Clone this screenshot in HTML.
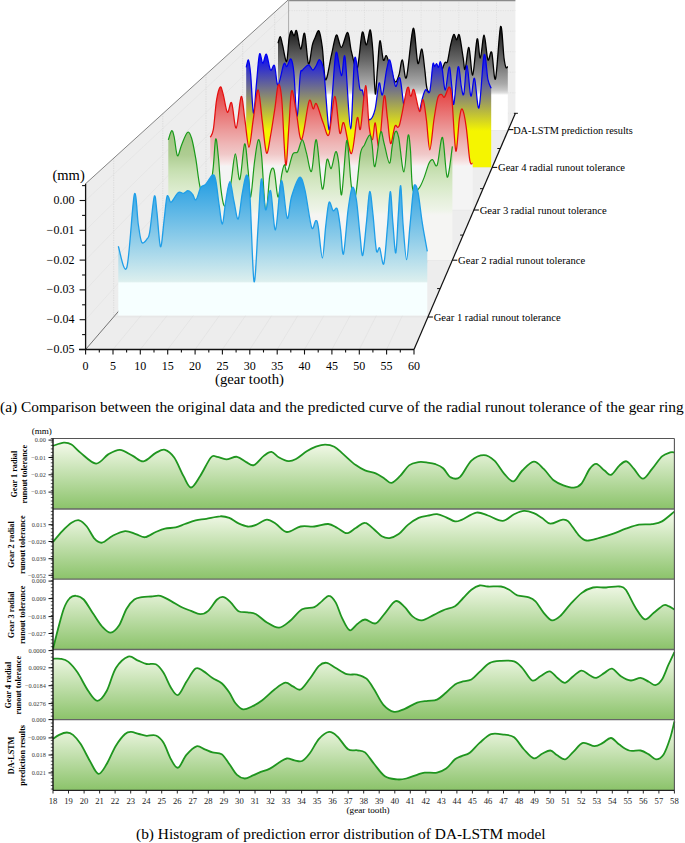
<!DOCTYPE html>
<html><head><meta charset="utf-8"><style>
html,body{margin:0;padding:0;background:#fff;}
body{width:685px;height:843px;overflow:hidden;}
svg{display:block;font-family:"Liberation Serif",serif;}
</style></head><body>
<svg width="685" height="843" viewBox="0 0 685 843">
<defs><linearGradient id="gPan0" gradientUnits="userSpaceOnUse" x1="0" y1="438.5" x2="0" y2="509.0"><stop offset="0" stop-color="#fafdf2"/><stop offset="1" stop-color="#8bc36a"/></linearGradient><linearGradient id="gPan1" gradientUnits="userSpaceOnUse" x1="0" y1="509.0" x2="0" y2="579.2"><stop offset="0" stop-color="#fafdf2"/><stop offset="1" stop-color="#8bc36a"/></linearGradient><linearGradient id="gPan2" gradientUnits="userSpaceOnUse" x1="0" y1="579.2" x2="0" y2="649.5"><stop offset="0" stop-color="#fafdf2"/><stop offset="1" stop-color="#8bc36a"/></linearGradient><linearGradient id="gPan3" gradientUnits="userSpaceOnUse" x1="0" y1="649.5" x2="0" y2="719.7"><stop offset="0" stop-color="#fafdf2"/><stop offset="1" stop-color="#8bc36a"/></linearGradient><linearGradient id="gPan4" gradientUnits="userSpaceOnUse" x1="0" y1="719.7" x2="0" y2="790.3"><stop offset="0" stop-color="#fafdf2"/><stop offset="1" stop-color="#8bc36a"/></linearGradient><linearGradient id="gDA" gradientUnits="userSpaceOnUse" x1="0" y1="26" x2="0" y2="95"><stop offset="0.000" stop-color="#050505"/><stop offset="0.130" stop-color="#262626"/><stop offset="0.333" stop-color="#4c4c4c"/><stop offset="0.507" stop-color="#6a6a6a"/><stop offset="0.674" stop-color="#8a8a8a"/><stop offset="0.841" stop-color="#aaaaaa"/><stop offset="0.928" stop-color="#c6c6c6"/><stop offset="0.971" stop-color="#e0e0e0"/><stop offset="1.000" stop-color="#ffffff"/></linearGradient>
<linearGradient id="gG4" gradientUnits="userSpaceOnUse" x1="0" y1="58" x2="0" y2="131"><stop offset="0" stop-color="#1212ee"/><stop offset="1" stop-color="#f5f500"/></linearGradient>
<linearGradient id="gG3" gradientUnits="userSpaceOnUse" x1="0" y1="85" x2="0" y2="166"><stop offset="0.000" stop-color="#e43434"/><stop offset="0.556" stop-color="#ec9a9a"/><stop offset="0.741" stop-color="#efb8b8"/><stop offset="0.852" stop-color="#f0c8c8"/><stop offset="0.926" stop-color="#f5dcdc"/><stop offset="0.981" stop-color="#f8ecec"/><stop offset="1.000" stop-color="#f4f4f4"/></linearGradient>
<linearGradient id="gG2" gradientUnits="userSpaceOnUse" x1="0" y1="130" x2="0" y2="216"><stop offset="0.000" stop-color="#9ec280"/><stop offset="0.291" stop-color="#aecd92"/><stop offset="0.465" stop-color="#c6dfb0"/><stop offset="0.581" stop-color="#d2e6c0"/><stop offset="0.698" stop-color="#dcecce"/><stop offset="0.814" stop-color="#e6f0dc"/><stop offset="0.930" stop-color="#eef4e8"/><stop offset="0.977" stop-color="#f4f5f1"/><stop offset="1.000" stop-color="#f5f5f3"/></linearGradient>
<linearGradient id="gG1" gradientUnits="userSpaceOnUse" x1="0" y1="175" x2="0" y2="283"><stop offset="0" stop-color="#1c9ae2"/><stop offset="0.985" stop-color="#dcefee"/><stop offset="1" stop-color="#f6ffff"/></linearGradient>
</defs>
<polygon points="85.6,183.7 289.1,-0.9 289.1,113.3 85.6,349.5" fill="#ededed"/>
<polygon points="85.6,349.5 414.0,349.5 515.4,113.3 289.1,113.3" fill="#ededed"/>
<rect x="289.1" y="-0.9" width="226.3" height="114.2" fill="#eeeeee"/>
<line x1="113.7" y1="158.2" x2="113.7" y2="316.8" stroke="#cfcfcf" stroke-width="0.6" stroke-dasharray="1.2,1.2" fill="none"/>
<line x1="162.8" y1="113.6" x2="162.8" y2="259.9" stroke="#cfcfcf" stroke-width="0.6" stroke-dasharray="1.2,1.2" fill="none"/>
<line x1="206" y1="74.5" x2="206" y2="209.8" stroke="#cfcfcf" stroke-width="0.6" stroke-dasharray="1.2,1.2" fill="none"/>
<line x1="242.7" y1="41.2" x2="242.7" y2="167.2" stroke="#cfcfcf" stroke-width="0.6" stroke-dasharray="1.2,1.2" fill="none"/>
<line x1="274.7" y1="12.1" x2="274.7" y2="130" stroke="#cfcfcf" stroke-width="0.6" stroke-dasharray="1.2,1.2" fill="none"/>
<line x1="85.6" y1="200.5" x2="289.1" y2="10.6" stroke="#dedede" stroke-width="0.5"/>
<line x1="85.6" y1="230.3" x2="289.1" y2="31.2" stroke="#dedede" stroke-width="0.5"/>
<line x1="85.6" y1="260.1" x2="289.1" y2="51.7" stroke="#dedede" stroke-width="0.5"/>
<line x1="85.6" y1="289.9" x2="289.1" y2="72.2" stroke="#dedede" stroke-width="0.5"/>
<line x1="85.6" y1="319.7" x2="289.1" y2="92.8" stroke="#dedede" stroke-width="0.5"/>
<line x1="85.6" y1="349.5" x2="289.1" y2="113.3" stroke="#dedede" stroke-width="0.5"/>
<line x1="308" y1="0" x2="308" y2="113.3" stroke="#d8d8d8" stroke-width="0.6" stroke-dasharray="1.2,1.2"/>
<line x1="113" y1="349.5" x2="308" y2="113.3" stroke="#dcdcdc" stroke-width="0.5"/>
<line x1="326.8" y1="0" x2="326.8" y2="113.3" stroke="#d8d8d8" stroke-width="0.6" stroke-dasharray="1.2,1.2"/>
<line x1="140.3" y1="349.5" x2="326.8" y2="113.3" stroke="#dcdcdc" stroke-width="0.5"/>
<line x1="345.7" y1="0" x2="345.7" y2="113.3" stroke="#d8d8d8" stroke-width="0.6" stroke-dasharray="1.2,1.2"/>
<line x1="167.7" y1="349.5" x2="345.7" y2="113.3" stroke="#dcdcdc" stroke-width="0.5"/>
<line x1="364.5" y1="0" x2="364.5" y2="113.3" stroke="#d8d8d8" stroke-width="0.6" stroke-dasharray="1.2,1.2"/>
<line x1="195.1" y1="349.5" x2="364.5" y2="113.3" stroke="#dcdcdc" stroke-width="0.5"/>
<line x1="383.4" y1="0" x2="383.4" y2="113.3" stroke="#d8d8d8" stroke-width="0.6" stroke-dasharray="1.2,1.2"/>
<line x1="222.4" y1="349.5" x2="383.4" y2="113.3" stroke="#dcdcdc" stroke-width="0.5"/>
<line x1="402.3" y1="0" x2="402.3" y2="113.3" stroke="#d8d8d8" stroke-width="0.6" stroke-dasharray="1.2,1.2"/>
<line x1="249.8" y1="349.5" x2="402.3" y2="113.3" stroke="#dcdcdc" stroke-width="0.5"/>
<line x1="421.1" y1="0" x2="421.1" y2="113.3" stroke="#d8d8d8" stroke-width="0.6" stroke-dasharray="1.2,1.2"/>
<line x1="277.2" y1="349.5" x2="421.1" y2="113.3" stroke="#dcdcdc" stroke-width="0.5"/>
<line x1="440" y1="0" x2="440" y2="113.3" stroke="#d8d8d8" stroke-width="0.6" stroke-dasharray="1.2,1.2"/>
<line x1="304.5" y1="349.5" x2="440" y2="113.3" stroke="#dcdcdc" stroke-width="0.5"/>
<line x1="458.8" y1="0" x2="458.8" y2="113.3" stroke="#d8d8d8" stroke-width="0.6" stroke-dasharray="1.2,1.2"/>
<line x1="331.9" y1="349.5" x2="458.8" y2="113.3" stroke="#dcdcdc" stroke-width="0.5"/>
<line x1="477.7" y1="0" x2="477.7" y2="113.3" stroke="#d8d8d8" stroke-width="0.6" stroke-dasharray="1.2,1.2"/>
<line x1="359.3" y1="349.5" x2="477.7" y2="113.3" stroke="#dcdcdc" stroke-width="0.5"/>
<line x1="496.5" y1="0" x2="496.5" y2="113.3" stroke="#d8d8d8" stroke-width="0.6" stroke-dasharray="1.2,1.2"/>
<line x1="386.6" y1="349.5" x2="496.5" y2="113.3" stroke="#dcdcdc" stroke-width="0.5"/>
<line x1="289.1" y1="10.6" x2="515.4" y2="10.6" stroke="#dadada" stroke-width="0.6" stroke-dasharray="1.2,1.2"/>
<line x1="289.1" y1="31.2" x2="515.4" y2="31.2" stroke="#dadada" stroke-width="0.6" stroke-dasharray="1.2,1.2"/>
<line x1="289.1" y1="51.7" x2="515.4" y2="51.7" stroke="#dadada" stroke-width="0.6" stroke-dasharray="1.2,1.2"/>
<line x1="289.1" y1="72.2" x2="515.4" y2="72.2" stroke="#dadada" stroke-width="0.6" stroke-dasharray="1.2,1.2"/>
<line x1="289.1" y1="92.8" x2="515.4" y2="92.8" stroke="#dadada" stroke-width="0.6" stroke-dasharray="1.2,1.2"/>
<line x1="289.1" y1="113.3" x2="515.4" y2="113.3" stroke="#dadada" stroke-width="0.6" stroke-dasharray="1.2,1.2"/>
<line x1="113.7" y1="316.8" x2="428" y2="316.8" stroke="#dcdcdc" stroke-width="0.5"/>
<line x1="162.8" y1="259.9" x2="452.5" y2="259.9" stroke="#dcdcdc" stroke-width="0.5"/>
<line x1="206" y1="209.8" x2="474" y2="209.8" stroke="#dcdcdc" stroke-width="0.5"/>
<line x1="242.7" y1="167.2" x2="492.2" y2="167.2" stroke="#dcdcdc" stroke-width="0.5"/>
<line x1="274.7" y1="130" x2="508.2" y2="130" stroke="#dcdcdc" stroke-width="0.5"/>
<line x1="289.1" y1="0.6" x2="515.4" y2="0.6" stroke="#8a8a8a" stroke-width="1.3"/>
<line x1="288.6" y1="0" x2="288.6" y2="113.3" stroke="#999" stroke-width="0.8"/>
<line x1="85.6" y1="183.7" x2="289.1" y2="-0.9" stroke="#666" stroke-width="0.8"/>
<line x1="85.6" y1="349.5" x2="289.1" y2="113.3" stroke="#555" stroke-width="0.8"/>
<path d="M278,43.3 C278.4,42.2 279.6,36.3 280.3,36.6 C281.1,36.9 281.4,40.8 282.5,44.9 C283.6,49 285.5,62.6 286.6,61.5 C287.7,60.4 288.3,43.4 289.1,38.3 C289.9,33.2 290.5,31.2 291.3,30.8 C292.1,30.4 293.2,35.8 294.1,35.8 C295,35.8 295.5,28.6 296.6,30.8 C297.7,33 299.4,48.7 300.7,49.1 C302,49.5 303.3,30.8 304.6,33.3 C305.9,35.8 307.2,62.1 308.5,64 C309.8,65.9 311.3,49.2 312.4,44.9 C313.5,40.6 313.8,40.6 314.9,38.3 C316,35.9 317.8,29.3 319,30.8 C320.2,32.3 321.2,39.2 322.3,47.4 C323.4,55.6 324.1,78.5 325.6,79.8 C327.1,81 329.7,62.4 331.5,54.9 C333.3,47.4 334.8,36.2 336.4,35 C338,33.8 339.5,47.8 341.4,47.4 C343.3,47 346,31.8 347.7,32.5 C349.4,33.2 349.8,45.6 351.4,51.6 C353,57.6 355.4,71.4 357.2,68.2 C359,65 360.7,36.4 362.2,32.5 C363.7,28.6 365,45.3 366.4,44.9 C367.8,44.5 369.2,28.6 370.3,30 C371.4,31.4 372.2,42.6 373,53.2 C373.8,63.9 374.6,91.1 375.3,93.9 C376,96.7 376.6,78.7 377.4,69.8 C378.2,60.9 378.9,42.4 379.9,40.8 C380.9,39.1 382.2,57.4 383.3,59.9 C384.4,62.4 385.2,55.2 386.2,55.7 C387.2,56.2 387.7,58.9 389.1,63.2 C390.6,67.5 393.2,79.6 394.9,81.5 C396.5,83.4 397.8,78.4 399,74.8 C400.2,71.2 401.1,59.5 402.4,59.9 C403.6,60.3 404.7,82.6 406.5,77.3 C408.3,72 411.3,30.6 413.2,28.3 C415.1,26 416.4,59.7 417.8,63.2 C419.2,66.7 420.6,48 421.8,49.1 C423,50.2 423.9,63 424.8,69.8 C425.7,76.6 425.9,85.9 427.3,89.8 C428.7,93.7 431.3,94.5 433.1,93.1 C434.9,91.7 436.2,86.5 438.1,81.5 C440,76.5 442.9,66.7 444.5,63.4 C446.1,60.1 446.5,64.7 447.5,61.6 C448.5,58.5 449.6,49.3 450.7,44.8 C451.8,40.3 452.8,35.4 453.8,34.6 C454.8,33.8 455.7,39.8 456.6,39.9 C457.5,40 458.3,32.2 459.4,35.2 C460.5,38.2 462.2,52.3 463.2,58 C464.1,63.7 464.2,71 465.1,69.3 C466.1,67.5 467.6,46.5 468.9,47.5 C470.2,48.5 471.3,76.4 472.7,75 C474.1,73.6 475.8,41.8 477.1,39 C478.4,36.2 479.1,58.6 480.3,58 C481.5,57.4 482.8,34.9 484.1,35.2 C485.4,35.5 486.6,56.9 487.9,59.8 C489.2,62.6 490.4,49.1 491.7,52.3 C493,55.5 494,83.1 495.5,78.8 C497,74.5 499.2,30.1 500.6,26.6 C502,23.1 503.1,51.2 504,58 C504.9,64.8 505.3,66 505.9,67.4 C506.5,68.8 507.5,66.7 507.8,66.5 L507.8,130 L278,130 Z" fill="url(#gDA)"/>
<path d="M278,43.3 C278.4,42.2 279.6,36.3 280.3,36.6 C281.1,36.9 281.4,40.8 282.5,44.9 C283.6,49 285.5,62.6 286.6,61.5 C287.7,60.4 288.3,43.4 289.1,38.3 C289.9,33.2 290.5,31.2 291.3,30.8 C292.1,30.4 293.2,35.8 294.1,35.8 C295,35.8 295.5,28.6 296.6,30.8 C297.7,33 299.4,48.7 300.7,49.1 C302,49.5 303.3,30.8 304.6,33.3 C305.9,35.8 307.2,62.1 308.5,64 C309.8,65.9 311.3,49.2 312.4,44.9 C313.5,40.6 313.8,40.6 314.9,38.3 C316,35.9 317.8,29.3 319,30.8 C320.2,32.3 321.2,39.2 322.3,47.4 C323.4,55.6 324.1,78.5 325.6,79.8 C327.1,81 329.7,62.4 331.5,54.9 C333.3,47.4 334.8,36.2 336.4,35 C338,33.8 339.5,47.8 341.4,47.4 C343.3,47 346,31.8 347.7,32.5 C349.4,33.2 349.8,45.6 351.4,51.6 C353,57.6 355.4,71.4 357.2,68.2 C359,65 360.7,36.4 362.2,32.5 C363.7,28.6 365,45.3 366.4,44.9 C367.8,44.5 369.2,28.6 370.3,30 C371.4,31.4 372.2,42.6 373,53.2 C373.8,63.9 374.6,91.1 375.3,93.9 C376,96.7 376.6,78.7 377.4,69.8 C378.2,60.9 378.9,42.4 379.9,40.8 C380.9,39.1 382.2,57.4 383.3,59.9 C384.4,62.4 385.2,55.2 386.2,55.7 C387.2,56.2 387.7,58.9 389.1,63.2 C390.6,67.5 393.2,79.6 394.9,81.5 C396.5,83.4 397.8,78.4 399,74.8 C400.2,71.2 401.1,59.5 402.4,59.9 C403.6,60.3 404.7,82.6 406.5,77.3 C408.3,72 411.3,30.6 413.2,28.3 C415.1,26 416.4,59.7 417.8,63.2 C419.2,66.7 420.6,48 421.8,49.1 C423,50.2 423.9,63 424.8,69.8 C425.7,76.6 425.9,85.9 427.3,89.8 C428.7,93.7 431.3,94.5 433.1,93.1 C434.9,91.7 436.2,86.5 438.1,81.5 C440,76.5 442.9,66.7 444.5,63.4 C446.1,60.1 446.5,64.7 447.5,61.6 C448.5,58.5 449.6,49.3 450.7,44.8 C451.8,40.3 452.8,35.4 453.8,34.6 C454.8,33.8 455.7,39.8 456.6,39.9 C457.5,40 458.3,32.2 459.4,35.2 C460.5,38.2 462.2,52.3 463.2,58 C464.1,63.7 464.2,71 465.1,69.3 C466.1,67.5 467.6,46.5 468.9,47.5 C470.2,48.5 471.3,76.4 472.7,75 C474.1,73.6 475.8,41.8 477.1,39 C478.4,36.2 479.1,58.6 480.3,58 C481.5,57.4 482.8,34.9 484.1,35.2 C485.4,35.5 486.6,56.9 487.9,59.8 C489.2,62.6 490.4,49.1 491.7,52.3 C493,55.5 494,83.1 495.5,78.8 C497,74.5 499.2,30.1 500.6,26.6 C502,23.1 503.1,51.2 504,58 C504.9,64.8 505.3,66 505.9,67.4 C506.5,68.8 507.5,66.7 507.8,66.5" fill="none" stroke="#000" stroke-width="1.3"/>
<path d="M246.2,67.4 C246.6,66.2 247.8,58.8 248.5,60 C249.2,61.2 249.9,66.1 250.7,74.9 C251.5,83.8 252.5,111.7 253.5,113.1 C254.5,114.5 255.5,93 256.5,83.2 C257.5,73.4 258.4,57.5 259.5,54.2 C260.6,50.9 261.7,63.3 262.8,63.3 C263.9,63.3 265.1,53.1 266.4,54.2 C267.7,55.3 269.1,68.1 270.5,70 C271.9,71.9 273.2,63.2 274.5,65.7 C275.8,68.2 276.4,85.3 278,85 C279.6,84.7 282.3,67.1 283.8,64 C285.3,60.9 285.6,67.3 286.8,66.5 C288,65.7 289.7,58.1 290.9,59 C292.1,59.9 292.8,62.5 293.8,72 C294.8,81.5 295.9,115.8 297,116.3 C298.1,116.8 299.3,82.6 300.2,75 C301.1,67.4 301.5,71.8 302.3,70.5 C303.1,69.2 303.9,68.5 305,67.5 C306.1,66.5 307.5,64.4 308.8,64.8 C310.1,65.2 311.6,69.8 312.8,70 C314,70.2 314.8,67.7 316,66 C317.2,64.3 318.5,58.7 319.8,59.9 C321.1,61.1 322.5,61.6 324,73.2 C325.5,84.8 327.6,126 329,129.6 C330.4,133.2 331.1,107.7 332.3,94.8 C333.5,81.9 334.6,55.6 336.1,52.4 C337.6,49.2 339.9,74.8 341.4,75.6 C342.9,76.4 343.6,48.5 345.1,57.4 C346.6,66.3 349,128.7 350.6,128.8 C352.2,128.9 353.2,65 354.7,58.2 C356.2,51.4 358.4,82.6 359.7,88.1 C361,93.6 361.5,87.2 362.7,91.4 C363.9,95.6 365.4,108.3 366.6,113 C367.8,117.7 368.6,120.2 370,119.7 C371.4,119.2 373.5,115.8 375,109.7 C376.5,103.6 377.9,85.6 379.1,83.1 C380.3,80.6 381.1,97 382.4,94.8 C383.6,92.6 385.4,75.6 386.6,69.8 C387.8,64 388.6,59.6 389.6,59.9 C390.6,60.2 391.4,67.1 392.4,71.5 C393.4,75.9 394.4,85.3 395.7,86.4 C396.9,87.5 398.5,74.8 399.9,78.1 C401.3,81.4 402.6,99.4 404,106.4 C405.4,113.4 406.5,116.4 408,120 C409.5,123.6 411.3,128.3 413,128 C414.7,127.7 416.4,123 418,118 C419.6,113 421.2,102.7 422.5,98 C423.8,93.3 424.4,90.9 425.6,89.8 C426.8,88.7 428.6,95.6 429.8,91.4 C431,87.2 432,68.8 432.8,64.6 C433.6,60.4 434.1,66.7 434.7,66.5 C435.3,66.3 436,63.5 436.6,63.6 C437.2,63.8 437.9,67.7 438.5,67.4 C439.1,67.1 439.8,61.4 440.4,61.7 C441,62 441.5,64.6 442.3,69.3 C443.1,74 444.2,90.4 445.3,90 C446.4,89.6 448.1,67.6 449.2,67 C450.3,66.4 451,80.2 451.8,86.4 C452.6,92.6 452.8,107.2 453.8,104 C454.9,100.8 456.9,69.9 458.1,67 C459.4,64.1 460.4,81.9 461.3,86.4 C462.2,90.9 462.9,97.5 463.8,94 C464.8,90.5 465.8,65.2 467,65.5 C468.2,65.8 469.6,93.9 470.8,96 C472.1,98.1 473.1,76.3 474.5,78.3 C475.9,80.3 477.4,111.7 479,107.8 C480.6,103.9 482.6,59.8 484.1,55 C485.6,50.2 486.7,73.8 487.9,79.3 C489.1,84.8 490.6,86.8 491.2,88.3 L491.2,167.2 L246.2,167.2 Z" fill="url(#gG4)"/>
<path d="M246.2,67.4 C246.6,66.2 247.8,58.8 248.5,60 C249.2,61.2 249.9,66.1 250.7,74.9 C251.5,83.8 252.5,111.7 253.5,113.1 C254.5,114.5 255.5,93 256.5,83.2 C257.5,73.4 258.4,57.5 259.5,54.2 C260.6,50.9 261.7,63.3 262.8,63.3 C263.9,63.3 265.1,53.1 266.4,54.2 C267.7,55.3 269.1,68.1 270.5,70 C271.9,71.9 273.2,63.2 274.5,65.7 C275.8,68.2 276.4,85.3 278,85 C279.6,84.7 282.3,67.1 283.8,64 C285.3,60.9 285.6,67.3 286.8,66.5 C288,65.7 289.7,58.1 290.9,59 C292.1,59.9 292.8,62.5 293.8,72 C294.8,81.5 295.9,115.8 297,116.3 C298.1,116.8 299.3,82.6 300.2,75 C301.1,67.4 301.5,71.8 302.3,70.5 C303.1,69.2 303.9,68.5 305,67.5 C306.1,66.5 307.5,64.4 308.8,64.8 C310.1,65.2 311.6,69.8 312.8,70 C314,70.2 314.8,67.7 316,66 C317.2,64.3 318.5,58.7 319.8,59.9 C321.1,61.1 322.5,61.6 324,73.2 C325.5,84.8 327.6,126 329,129.6 C330.4,133.2 331.1,107.7 332.3,94.8 C333.5,81.9 334.6,55.6 336.1,52.4 C337.6,49.2 339.9,74.8 341.4,75.6 C342.9,76.4 343.6,48.5 345.1,57.4 C346.6,66.3 349,128.7 350.6,128.8 C352.2,128.9 353.2,65 354.7,58.2 C356.2,51.4 358.4,82.6 359.7,88.1 C361,93.6 361.5,87.2 362.7,91.4 C363.9,95.6 365.4,108.3 366.6,113 C367.8,117.7 368.6,120.2 370,119.7 C371.4,119.2 373.5,115.8 375,109.7 C376.5,103.6 377.9,85.6 379.1,83.1 C380.3,80.6 381.1,97 382.4,94.8 C383.6,92.6 385.4,75.6 386.6,69.8 C387.8,64 388.6,59.6 389.6,59.9 C390.6,60.2 391.4,67.1 392.4,71.5 C393.4,75.9 394.4,85.3 395.7,86.4 C396.9,87.5 398.5,74.8 399.9,78.1 C401.3,81.4 402.6,99.4 404,106.4 C405.4,113.4 406.5,116.4 408,120 C409.5,123.6 411.3,128.3 413,128 C414.7,127.7 416.4,123 418,118 C419.6,113 421.2,102.7 422.5,98 C423.8,93.3 424.4,90.9 425.6,89.8 C426.8,88.7 428.6,95.6 429.8,91.4 C431,87.2 432,68.8 432.8,64.6 C433.6,60.4 434.1,66.7 434.7,66.5 C435.3,66.3 436,63.5 436.6,63.6 C437.2,63.8 437.9,67.7 438.5,67.4 C439.1,67.1 439.8,61.4 440.4,61.7 C441,62 441.5,64.6 442.3,69.3 C443.1,74 444.2,90.4 445.3,90 C446.4,89.6 448.1,67.6 449.2,67 C450.3,66.4 451,80.2 451.8,86.4 C452.6,92.6 452.8,107.2 453.8,104 C454.9,100.8 456.9,69.9 458.1,67 C459.4,64.1 460.4,81.9 461.3,86.4 C462.2,90.9 462.9,97.5 463.8,94 C464.8,90.5 465.8,65.2 467,65.5 C468.2,65.8 469.6,93.9 470.8,96 C472.1,98.1 473.1,76.3 474.5,78.3 C475.9,80.3 477.4,111.7 479,107.8 C480.6,103.9 482.6,59.8 484.1,55 C485.6,50.2 486.7,73.8 487.9,79.3 C489.1,84.8 490.6,86.8 491.2,88.3" fill="none" stroke="#0000ee" stroke-width="1.25"/>
<path d="M210.3,137.2 C210.8,135.9 212.2,135.9 213.3,129.7 C214.4,123.5 215.4,106.9 216.6,99.8 C217.8,92.7 219.2,87.7 220.3,86.9 C221.4,86.1 222.1,90.7 223.3,94.9 C224.5,99.1 226,111 227.4,112.3 C228.8,113.6 230.1,100.2 231.6,102.8 C233.1,105.4 234.6,129.2 236.2,128.1 C237.8,127 239.8,97.9 241.2,96.5 C242.6,95.1 243.6,111.3 244.9,119.8 C246.2,128.2 247.6,147.2 249,147.2 C250.4,147.2 251.7,129.3 253.2,119.8 C254.7,110.2 256.6,89.6 258.1,89.9 C259.6,90.2 260.9,110.9 262.3,121.4 C263.7,131.9 265.1,150.7 266.5,153 C267.9,155.3 269.3,142.4 270.7,135 C272.1,127.5 273.6,116.6 274.9,108.3 C276.2,100 277.1,86.3 278.3,84.9 C279.5,83.5 280.6,86.7 281.8,100 C283,113.3 284.5,160.6 285.7,165 C286.9,169.4 287.9,138.8 288.9,126.4 C289.9,114 290.4,92.9 291.7,90.7 C292.9,88.5 294.8,104.8 296.4,113 C298,121.2 299.5,141.5 301.6,139.6 C303.7,137.7 307.1,106.5 309,101.4 C310.9,96.3 311.9,108.5 313.2,108.9 C314.4,109.3 314.8,101.6 316.5,103.9 C318.2,106.2 321.1,117.9 323.2,123 C325.3,128.1 327.1,139 329,134.6 C330.9,130.2 333,96.7 334.8,96.4 C336.6,96.1 338.3,128.6 339.8,133 C341.3,137.4 342,119.5 343.9,123 C345.8,126.5 349.2,154.5 351.4,153.7 C353.6,152.9 355.7,122.1 357.2,118 C358.7,113.9 359.1,134.2 360.5,128.8 C361.9,123.4 364.2,86 365.6,85.6 C367,85.2 368,117.3 369.1,126.3 C370.2,135.3 371.5,140.2 372.5,139.6 C373.5,139 374.2,121.9 375.3,123 C376.4,124.1 377.6,150.6 379.1,146.2 C380.6,141.8 382.7,101.1 384.1,96.4 C385.5,91.7 386.3,110.2 387.4,118 C388.5,125.8 389.3,142.2 390.6,143.5 C391.9,144.8 393.5,129.1 395,126 C396.5,122.9 397.4,131.3 399.5,125 C401.6,118.7 405.4,92.9 407.3,88.1 C409.2,83.3 409.6,96.1 410.7,96.4 C411.8,96.7 412.5,87.3 414,89.8 C415.5,92.3 418,109.8 419.5,111.4 C421,113.1 422,98.3 423.1,99.7 C424.2,101.1 425.3,111.3 426.4,119.7 C427.5,128.1 428.6,149.8 429.8,149.8 C431.1,149.9 432.6,128.7 433.9,120 C435.2,111.3 436.6,102.1 437.8,97.8 C439.1,93.5 440.3,94.5 441.4,94.4 C442.5,94.3 443.2,98.2 444.5,97 C445.8,95.8 448.1,86.5 449.3,87 C450.6,87.5 450.9,89.3 452,100 C453.1,110.7 454.6,147.9 455.8,151 C457,154.1 458.3,125.7 459.4,118.7 C460.5,111.7 461.2,107.9 462.3,109.2 C463.4,110.5 464.9,117.8 466.1,126.3 C467.4,134.8 468.7,154.2 469.8,160.4 C470.9,166.6 472.2,162.8 472.7,163.3 L472.7,209.8 L210.3,209.8 Z" fill="url(#gG3)"/>
<path d="M210.3,137.2 C210.8,135.9 212.2,135.9 213.3,129.7 C214.4,123.5 215.4,106.9 216.6,99.8 C217.8,92.7 219.2,87.7 220.3,86.9 C221.4,86.1 222.1,90.7 223.3,94.9 C224.5,99.1 226,111 227.4,112.3 C228.8,113.6 230.1,100.2 231.6,102.8 C233.1,105.4 234.6,129.2 236.2,128.1 C237.8,127 239.8,97.9 241.2,96.5 C242.6,95.1 243.6,111.3 244.9,119.8 C246.2,128.2 247.6,147.2 249,147.2 C250.4,147.2 251.7,129.3 253.2,119.8 C254.7,110.2 256.6,89.6 258.1,89.9 C259.6,90.2 260.9,110.9 262.3,121.4 C263.7,131.9 265.1,150.7 266.5,153 C267.9,155.3 269.3,142.4 270.7,135 C272.1,127.5 273.6,116.6 274.9,108.3 C276.2,100 277.1,86.3 278.3,84.9 C279.5,83.5 280.6,86.7 281.8,100 C283,113.3 284.5,160.6 285.7,165 C286.9,169.4 287.9,138.8 288.9,126.4 C289.9,114 290.4,92.9 291.7,90.7 C292.9,88.5 294.8,104.8 296.4,113 C298,121.2 299.5,141.5 301.6,139.6 C303.7,137.7 307.1,106.5 309,101.4 C310.9,96.3 311.9,108.5 313.2,108.9 C314.4,109.3 314.8,101.6 316.5,103.9 C318.2,106.2 321.1,117.9 323.2,123 C325.3,128.1 327.1,139 329,134.6 C330.9,130.2 333,96.7 334.8,96.4 C336.6,96.1 338.3,128.6 339.8,133 C341.3,137.4 342,119.5 343.9,123 C345.8,126.5 349.2,154.5 351.4,153.7 C353.6,152.9 355.7,122.1 357.2,118 C358.7,113.9 359.1,134.2 360.5,128.8 C361.9,123.4 364.2,86 365.6,85.6 C367,85.2 368,117.3 369.1,126.3 C370.2,135.3 371.5,140.2 372.5,139.6 C373.5,139 374.2,121.9 375.3,123 C376.4,124.1 377.6,150.6 379.1,146.2 C380.6,141.8 382.7,101.1 384.1,96.4 C385.5,91.7 386.3,110.2 387.4,118 C388.5,125.8 389.3,142.2 390.6,143.5 C391.9,144.8 393.5,129.1 395,126 C396.5,122.9 397.4,131.3 399.5,125 C401.6,118.7 405.4,92.9 407.3,88.1 C409.2,83.3 409.6,96.1 410.7,96.4 C411.8,96.7 412.5,87.3 414,89.8 C415.5,92.3 418,109.8 419.5,111.4 C421,113.1 422,98.3 423.1,99.7 C424.2,101.1 425.3,111.3 426.4,119.7 C427.5,128.1 428.6,149.8 429.8,149.8 C431.1,149.9 432.6,128.7 433.9,120 C435.2,111.3 436.6,102.1 437.8,97.8 C439.1,93.5 440.3,94.5 441.4,94.4 C442.5,94.3 443.2,98.2 444.5,97 C445.8,95.8 448.1,86.5 449.3,87 C450.6,87.5 450.9,89.3 452,100 C453.1,110.7 454.6,147.9 455.8,151 C457,154.1 458.3,125.7 459.4,118.7 C460.5,111.7 461.2,107.9 462.3,109.2 C463.4,110.5 464.9,117.8 466.1,126.3 C467.4,134.8 468.7,154.2 469.8,160.4 C470.9,166.6 472.2,162.8 472.7,163.3" fill="none" stroke="#e51010" stroke-width="1.25"/>
<path d="M168.3,139.9 C168.9,138.4 170.6,131.4 171.6,130.8 C172.6,130.2 173.1,132.4 174.1,136.6 C175.1,140.8 176.2,154.3 177.4,155.7 C178.7,157.1 179.9,148.8 181.6,144.9 C183.3,141 185.7,133.5 187.4,132.4 C189.1,131.3 190.2,133.9 191.6,138.2 C193,142.5 194.3,150.2 195.7,158.2 C197.1,166.2 198.3,179.4 199.9,186.4 C201.5,193.4 202.9,201.9 205,200 C207.1,198.1 210.5,185.1 212.3,175 C214.1,164.9 214.6,142.4 215.6,139.3 C216.6,136.2 217.4,148.2 218.3,156.3 C219.2,164.4 219.9,179.7 220.8,187.9 C221.8,196.1 222.8,203.5 224,205.5 C225.2,207.5 226.8,204.3 228,200 C229.2,195.7 230.2,187.5 231.4,179.8 C232.6,172.1 234,153.9 235.4,153.9 C236.8,153.9 238.3,181.3 239.8,179.6 C241.3,177.9 243.2,145.5 244.6,143.9 C246,142.3 247.1,161.2 248.1,170 C249.1,178.8 249.5,198.3 250.6,197 C251.7,195.7 253.2,171.5 254.5,162 C255.8,152.5 257.2,140.6 258.4,139.8 C259.6,139 260.5,144.8 261.7,157 C262.9,169.2 264.4,209.9 265.8,213 C267.2,216.1 268.4,182.7 269.8,175.5 C271.2,168.3 272.6,166.1 274,169.7 C275.4,173.3 276.7,196.3 278,197 C279.3,197.7 280.7,179.4 281.8,174 C282.9,168.6 283.5,165 284.4,164.7 C285.3,164.4 285.9,173.7 287.3,172 C288.7,170.3 291,157.7 292.7,154.3 C294.4,150.9 296,154.2 297.6,151.8 C299.2,149.4 300.8,139.7 302.3,139.9 C303.8,140.1 305,147.9 306.5,153.2 C308,158.4 309.9,173.6 311.5,171.4 C313.1,169.2 314.6,137 316.4,139.9 C318.2,142.8 320.5,185.7 322.3,189 C324.1,192.3 325.5,163 327,159.6 C328.5,156.2 329.8,169.8 331.2,168.5 C332.6,167.2 334.4,152.8 335.7,151.8 C336.9,150.8 337.7,155.4 338.7,162.6 C339.7,169.8 340.3,198 341.6,194.7 C342.9,191.4 345.1,149.5 346.3,142.6 C347.5,135.7 347.7,145.8 348.6,153.2 C349.5,160.6 350.3,180.1 351.5,187.1 C352.7,194.1 354.1,200.8 355.6,195.3 C357.1,189.9 358.8,162.8 360.3,154.4 C361.8,146 362.8,148.2 364.4,145 C365.9,141.8 368.3,135.3 369.6,135.1 C370.9,134.9 371.1,138.7 372,143.9 C372.9,149.2 373.5,168.5 374.9,166.6 C376.3,164.7 379,136.4 380.5,132.5 C382,128.6 382.5,137.9 384,143 C385.5,148.1 388,162.8 389.4,163.2 C390.8,163.6 391.3,150.9 392.3,145.7 C393.3,140.5 394.1,133.3 395.2,131.9 C396.3,130.5 397.2,130.8 398.7,137.5 C400.1,144.2 402.3,172.3 403.9,172 C405.4,171.7 406.9,139.6 408,135.8 C409.1,132 409.6,140.3 410.4,149.2 C411.2,158 411.3,182.3 412.7,188.9 C414.1,195.5 416.6,190.7 418.5,188.9 C420.4,187.2 422.1,182.7 423.8,178.4 C425.6,174.1 427.5,166.3 429,163.2 C430.5,160.1 431.2,159.4 432.6,159.7 C434,160 435.6,168.7 437.2,165 C438.8,161.3 440.8,135.5 442.5,137.5 C444.2,139.5 445.6,175.7 447.2,177.2 C448.8,178.7 451.5,151.5 452.4,146.3 L452.4,260 L168.3,260 Z" fill="url(#gG2)"/>
<path d="M168.3,139.9 C168.9,138.4 170.6,131.4 171.6,130.8 C172.6,130.2 173.1,132.4 174.1,136.6 C175.1,140.8 176.2,154.3 177.4,155.7 C178.7,157.1 179.9,148.8 181.6,144.9 C183.3,141 185.7,133.5 187.4,132.4 C189.1,131.3 190.2,133.9 191.6,138.2 C193,142.5 194.3,150.2 195.7,158.2 C197.1,166.2 198.3,179.4 199.9,186.4 C201.5,193.4 202.9,201.9 205,200 C207.1,198.1 210.5,185.1 212.3,175 C214.1,164.9 214.6,142.4 215.6,139.3 C216.6,136.2 217.4,148.2 218.3,156.3 C219.2,164.4 219.9,179.7 220.8,187.9 C221.8,196.1 222.8,203.5 224,205.5 C225.2,207.5 226.8,204.3 228,200 C229.2,195.7 230.2,187.5 231.4,179.8 C232.6,172.1 234,153.9 235.4,153.9 C236.8,153.9 238.3,181.3 239.8,179.6 C241.3,177.9 243.2,145.5 244.6,143.9 C246,142.3 247.1,161.2 248.1,170 C249.1,178.8 249.5,198.3 250.6,197 C251.7,195.7 253.2,171.5 254.5,162 C255.8,152.5 257.2,140.6 258.4,139.8 C259.6,139 260.5,144.8 261.7,157 C262.9,169.2 264.4,209.9 265.8,213 C267.2,216.1 268.4,182.7 269.8,175.5 C271.2,168.3 272.6,166.1 274,169.7 C275.4,173.3 276.7,196.3 278,197 C279.3,197.7 280.7,179.4 281.8,174 C282.9,168.6 283.5,165 284.4,164.7 C285.3,164.4 285.9,173.7 287.3,172 C288.7,170.3 291,157.7 292.7,154.3 C294.4,150.9 296,154.2 297.6,151.8 C299.2,149.4 300.8,139.7 302.3,139.9 C303.8,140.1 305,147.9 306.5,153.2 C308,158.4 309.9,173.6 311.5,171.4 C313.1,169.2 314.6,137 316.4,139.9 C318.2,142.8 320.5,185.7 322.3,189 C324.1,192.3 325.5,163 327,159.6 C328.5,156.2 329.8,169.8 331.2,168.5 C332.6,167.2 334.4,152.8 335.7,151.8 C336.9,150.8 337.7,155.4 338.7,162.6 C339.7,169.8 340.3,198 341.6,194.7 C342.9,191.4 345.1,149.5 346.3,142.6 C347.5,135.7 347.7,145.8 348.6,153.2 C349.5,160.6 350.3,180.1 351.5,187.1 C352.7,194.1 354.1,200.8 355.6,195.3 C357.1,189.9 358.8,162.8 360.3,154.4 C361.8,146 362.8,148.2 364.4,145 C365.9,141.8 368.3,135.3 369.6,135.1 C370.9,134.9 371.1,138.7 372,143.9 C372.9,149.2 373.5,168.5 374.9,166.6 C376.3,164.7 379,136.4 380.5,132.5 C382,128.6 382.5,137.9 384,143 C385.5,148.1 388,162.8 389.4,163.2 C390.8,163.6 391.3,150.9 392.3,145.7 C393.3,140.5 394.1,133.3 395.2,131.9 C396.3,130.5 397.2,130.8 398.7,137.5 C400.1,144.2 402.3,172.3 403.9,172 C405.4,171.7 406.9,139.6 408,135.8 C409.1,132 409.6,140.3 410.4,149.2 C411.2,158 411.3,182.3 412.7,188.9 C414.1,195.5 416.6,190.7 418.5,188.9 C420.4,187.2 422.1,182.7 423.8,178.4 C425.6,174.1 427.5,166.3 429,163.2 C430.5,160.1 431.2,159.4 432.6,159.7 C434,160 435.6,168.7 437.2,165 C438.8,161.3 440.8,135.5 442.5,137.5 C444.2,139.5 445.6,175.7 447.2,177.2 C448.8,178.7 451.5,151.5 452.4,146.3" fill="none" stroke="#1a9a1a" stroke-width="1.2"/>
<path d="M118.3,246.2 C119.7,249.8 124.1,276.1 126.8,267.5 C129.5,258.9 132.4,201.8 134.3,194.6 C136.2,187.4 137.1,216.6 138.3,224.5 C139.6,232.4 140.3,239.9 141.8,242.3 C143.3,244.7 145.9,240.5 147.2,238.7 C148.5,236.9 148.6,238.6 149.8,231.6 C151,224.6 153.1,199.7 154.3,196.4 C155.5,193.1 155.9,203.6 156.9,212 C157.9,220.4 159.3,245.2 160.5,246.7 C161.7,248.2 163,229.2 164,221 C165,212.8 165.9,201.8 166.7,197.8 C167.4,193.8 167.8,196.2 168.5,196.9 C169.2,197.6 169.6,202.9 171.2,202.2 C172.8,201.5 176.2,194 178.3,192.5 C180.4,191 182,193.6 183.6,193.3 C185.2,193 186.6,190.5 188.1,190.7 C189.6,190.8 191.2,192.7 192.5,194.2 C193.8,195.7 194.6,200.9 196,199.8 C197.4,198.7 199.2,190 200.8,187.4 C202.4,184.8 203.9,186.2 205.8,184.1 C207.7,182 210.8,175.7 212.4,175 C214.1,174.3 214.6,175 215.7,180 C216.8,185 218,197.6 219.1,204.9 C220.2,212.2 221.3,224.6 222.4,224 C223.5,223.4 224.4,208.6 225.7,201.5 C226.9,194.4 228.5,181.6 229.9,181.6 C231.3,181.6 232.6,195.3 234,201.5 C235.4,207.7 236.8,220.4 238.2,219 C239.6,217.6 240.9,200.5 242.3,193.2 C243.7,185.9 245.2,175 246.5,175 C247.8,175 248.6,175.5 249.8,193.2 C251.1,210.9 252.6,275.8 254,281.3 C255.4,286.8 256.9,243.4 258.1,226.4 C259.3,209.4 260.1,181.9 261.4,179.1 C262.6,176.3 264.1,207.9 265.6,209.8 C267.1,211.7 269,187.4 270.6,190.7 C272.2,194 273.7,231.5 275.5,229.8 C277.3,228.2 279.4,182.8 281.4,180.8 C283.3,178.9 285.5,215.5 287.2,218.1 C288.9,220.7 289.5,203.3 291.6,196.5 C293.7,189.7 297.4,178.5 299.6,177.4 C301.8,176.3 302.9,181.6 304.9,189.9 C306.9,198.2 309.8,222.2 311.6,227.3 C313.4,232.4 314.6,220.8 315.7,220.6 C316.8,220.4 317.1,220.2 318.2,226.4 C319.3,232.6 321.1,258 322.4,258 C323.6,258 324.6,235.7 325.7,226.4 C326.8,217.1 327.8,205 329,202.4 C330.2,199.8 331.8,209.6 333.2,210.7 C334.6,211.8 336.1,205.8 337.3,209 C338.5,212.2 339.6,222.3 340.6,229.8 C341.6,237.3 342.2,257.2 343.5,253.9 C344.8,250.6 346.6,220.9 348.1,209.8 C349.6,198.7 350.9,189.1 352.3,187.4 C353.7,185.8 355.1,192.3 356.4,199.9 C357.6,207.5 358.8,223.8 359.8,233.1 C360.9,242.4 361.6,257.2 362.7,255.5 C363.8,253.8 365.2,233.8 366.4,223.1 C367.6,212.4 368.6,193 369.7,191.6 C370.8,190.2 371.9,205 373,214.8 C374.1,224.6 375.3,245 376.4,250.5 C377.5,256 378.5,245.8 379.7,248 C380.9,250.2 382.5,267.4 383.8,263.8 C385.1,260.2 386.4,238.4 387.5,226.4 C388.6,214.4 389.4,192.2 390.3,191.6 C391.2,191 392,212.9 392.9,223.1 C393.8,233.3 394.9,254.4 395.8,253 C396.7,251.6 397.5,226 398.3,214.8 C399.1,203.6 399.9,183.8 400.7,185.7 C401.5,187.6 402.2,214.1 403.2,226.4 C404.2,238.7 405.5,259.7 406.6,259.7 C407.7,259.7 408.8,237.8 409.9,226.4 C411,215.1 412.3,198.5 413.2,191.6 C414.1,184.7 414.4,184.6 415.2,184.9 C416,185.2 417,186.8 418.2,193.2 C419.4,199.6 420.8,213.4 422.3,223.1 C423.8,232.8 426.5,246.7 427.3,251.4 L427.3,315.5 L118.3,315.5 Z" fill="url(#gG1)"/>
<path d="M118.3,246.2 C119.7,249.8 124.1,276.1 126.8,267.5 C129.5,258.9 132.4,201.8 134.3,194.6 C136.2,187.4 137.1,216.6 138.3,224.5 C139.6,232.4 140.3,239.9 141.8,242.3 C143.3,244.7 145.9,240.5 147.2,238.7 C148.5,236.9 148.6,238.6 149.8,231.6 C151,224.6 153.1,199.7 154.3,196.4 C155.5,193.1 155.9,203.6 156.9,212 C157.9,220.4 159.3,245.2 160.5,246.7 C161.7,248.2 163,229.2 164,221 C165,212.8 165.9,201.8 166.7,197.8 C167.4,193.8 167.8,196.2 168.5,196.9 C169.2,197.6 169.6,202.9 171.2,202.2 C172.8,201.5 176.2,194 178.3,192.5 C180.4,191 182,193.6 183.6,193.3 C185.2,193 186.6,190.5 188.1,190.7 C189.6,190.8 191.2,192.7 192.5,194.2 C193.8,195.7 194.6,200.9 196,199.8 C197.4,198.7 199.2,190 200.8,187.4 C202.4,184.8 203.9,186.2 205.8,184.1 C207.7,182 210.8,175.7 212.4,175 C214.1,174.3 214.6,175 215.7,180 C216.8,185 218,197.6 219.1,204.9 C220.2,212.2 221.3,224.6 222.4,224 C223.5,223.4 224.4,208.6 225.7,201.5 C226.9,194.4 228.5,181.6 229.9,181.6 C231.3,181.6 232.6,195.3 234,201.5 C235.4,207.7 236.8,220.4 238.2,219 C239.6,217.6 240.9,200.5 242.3,193.2 C243.7,185.9 245.2,175 246.5,175 C247.8,175 248.6,175.5 249.8,193.2 C251.1,210.9 252.6,275.8 254,281.3 C255.4,286.8 256.9,243.4 258.1,226.4 C259.3,209.4 260.1,181.9 261.4,179.1 C262.6,176.3 264.1,207.9 265.6,209.8 C267.1,211.7 269,187.4 270.6,190.7 C272.2,194 273.7,231.5 275.5,229.8 C277.3,228.2 279.4,182.8 281.4,180.8 C283.3,178.9 285.5,215.5 287.2,218.1 C288.9,220.7 289.5,203.3 291.6,196.5 C293.7,189.7 297.4,178.5 299.6,177.4 C301.8,176.3 302.9,181.6 304.9,189.9 C306.9,198.2 309.8,222.2 311.6,227.3 C313.4,232.4 314.6,220.8 315.7,220.6 C316.8,220.4 317.1,220.2 318.2,226.4 C319.3,232.6 321.1,258 322.4,258 C323.6,258 324.6,235.7 325.7,226.4 C326.8,217.1 327.8,205 329,202.4 C330.2,199.8 331.8,209.6 333.2,210.7 C334.6,211.8 336.1,205.8 337.3,209 C338.5,212.2 339.6,222.3 340.6,229.8 C341.6,237.3 342.2,257.2 343.5,253.9 C344.8,250.6 346.6,220.9 348.1,209.8 C349.6,198.7 350.9,189.1 352.3,187.4 C353.7,185.8 355.1,192.3 356.4,199.9 C357.6,207.5 358.8,223.8 359.8,233.1 C360.9,242.4 361.6,257.2 362.7,255.5 C363.8,253.8 365.2,233.8 366.4,223.1 C367.6,212.4 368.6,193 369.7,191.6 C370.8,190.2 371.9,205 373,214.8 C374.1,224.6 375.3,245 376.4,250.5 C377.5,256 378.5,245.8 379.7,248 C380.9,250.2 382.5,267.4 383.8,263.8 C385.1,260.2 386.4,238.4 387.5,226.4 C388.6,214.4 389.4,192.2 390.3,191.6 C391.2,191 392,212.9 392.9,223.1 C393.8,233.3 394.9,254.4 395.8,253 C396.7,251.6 397.5,226 398.3,214.8 C399.1,203.6 399.9,183.8 400.7,185.7 C401.5,187.6 402.2,214.1 403.2,226.4 C404.2,238.7 405.5,259.7 406.6,259.7 C407.7,259.7 408.8,237.8 409.9,226.4 C411,215.1 412.3,198.5 413.2,191.6 C414.1,184.7 414.4,184.6 415.2,184.9 C416,185.2 417,186.8 418.2,193.2 C419.4,199.6 420.8,213.4 422.3,223.1 C423.8,232.8 426.5,246.7 427.3,251.4" fill="none" stroke="#1e9ee8" stroke-width="1.3"/>
<line x1="85.6" y1="183.7" x2="85.6" y2="350.1" stroke="#111" stroke-width="1.3"/>
<line x1="79" y1="349.5" x2="414.0" y2="349.5" stroke="#111" stroke-width="1.3"/>
<line x1="79.6" y1="349.5" x2="85.6" y2="349.5" stroke="#111" stroke-width="1.1"/>
<line x1="82.1" y1="334.6" x2="85.6" y2="334.6" stroke="#111" stroke-width="1.1"/>
<line x1="79.6" y1="319.7" x2="85.6" y2="319.7" stroke="#111" stroke-width="1.1"/>
<line x1="82.1" y1="304.8" x2="85.6" y2="304.8" stroke="#111" stroke-width="1.1"/>
<line x1="79.6" y1="289.9" x2="85.6" y2="289.9" stroke="#111" stroke-width="1.1"/>
<line x1="82.1" y1="275" x2="85.6" y2="275" stroke="#111" stroke-width="1.1"/>
<line x1="79.6" y1="260.1" x2="85.6" y2="260.1" stroke="#111" stroke-width="1.1"/>
<line x1="82.1" y1="245.2" x2="85.6" y2="245.2" stroke="#111" stroke-width="1.1"/>
<line x1="79.6" y1="230.3" x2="85.6" y2="230.3" stroke="#111" stroke-width="1.1"/>
<line x1="82.1" y1="215.4" x2="85.6" y2="215.4" stroke="#111" stroke-width="1.1"/>
<line x1="79.6" y1="200.5" x2="85.6" y2="200.5" stroke="#111" stroke-width="1.1"/>
<line x1="82.1" y1="185.6" x2="85.6" y2="185.6" stroke="#111" stroke-width="1.1"/>
<line x1="85.6" y1="349.5" x2="85.6" y2="354.5" stroke="#111" stroke-width="1.1"/>
<line x1="99.3" y1="349.5" x2="99.3" y2="352.5" stroke="#111" stroke-width="1.1"/>
<line x1="113" y1="349.5" x2="113" y2="354.5" stroke="#111" stroke-width="1.1"/>
<line x1="126.6" y1="349.5" x2="126.6" y2="352.5" stroke="#111" stroke-width="1.1"/>
<line x1="140.3" y1="349.5" x2="140.3" y2="354.5" stroke="#111" stroke-width="1.1"/>
<line x1="154" y1="349.5" x2="154" y2="352.5" stroke="#111" stroke-width="1.1"/>
<line x1="167.7" y1="349.5" x2="167.7" y2="354.5" stroke="#111" stroke-width="1.1"/>
<line x1="181.4" y1="349.5" x2="181.4" y2="352.5" stroke="#111" stroke-width="1.1"/>
<line x1="195.1" y1="349.5" x2="195.1" y2="354.5" stroke="#111" stroke-width="1.1"/>
<line x1="208.8" y1="349.5" x2="208.8" y2="352.5" stroke="#111" stroke-width="1.1"/>
<line x1="222.4" y1="349.5" x2="222.4" y2="354.5" stroke="#111" stroke-width="1.1"/>
<line x1="236.1" y1="349.5" x2="236.1" y2="352.5" stroke="#111" stroke-width="1.1"/>
<line x1="249.8" y1="349.5" x2="249.8" y2="354.5" stroke="#111" stroke-width="1.1"/>
<line x1="263.5" y1="349.5" x2="263.5" y2="352.5" stroke="#111" stroke-width="1.1"/>
<line x1="277.2" y1="349.5" x2="277.2" y2="354.5" stroke="#111" stroke-width="1.1"/>
<line x1="290.8" y1="349.5" x2="290.8" y2="352.5" stroke="#111" stroke-width="1.1"/>
<line x1="304.5" y1="349.5" x2="304.5" y2="354.5" stroke="#111" stroke-width="1.1"/>
<line x1="318.2" y1="349.5" x2="318.2" y2="352.5" stroke="#111" stroke-width="1.1"/>
<line x1="331.9" y1="349.5" x2="331.9" y2="354.5" stroke="#111" stroke-width="1.1"/>
<line x1="345.6" y1="349.5" x2="345.6" y2="352.5" stroke="#111" stroke-width="1.1"/>
<line x1="359.3" y1="349.5" x2="359.3" y2="354.5" stroke="#111" stroke-width="1.1"/>
<line x1="372.9" y1="349.5" x2="372.9" y2="352.5" stroke="#111" stroke-width="1.1"/>
<line x1="386.6" y1="349.5" x2="386.6" y2="354.5" stroke="#111" stroke-width="1.1"/>
<line x1="400.3" y1="349.5" x2="400.3" y2="352.5" stroke="#111" stroke-width="1.1"/>
<line x1="414" y1="349.5" x2="414" y2="354.5" stroke="#111" stroke-width="1.1"/>
<line x1="414.0" y1="349.5" x2="515.4" y2="113.3" stroke="#111" stroke-width="1.2"/>
<line x1="427.9" y1="317" x2="432.9" y2="317" stroke="#111" stroke-width="1.1"/>
<text x="433.7" y="320.8" font-size="10.6">Gear 1 radial runout tolerance</text>
<line x1="452.3" y1="260.2" x2="457.3" y2="260.2" stroke="#111" stroke-width="1.1"/>
<text x="458.1" y="264" font-size="10.6">Gear 2 radial runout tolerance</text>
<line x1="473.9" y1="210" x2="478.9" y2="210" stroke="#111" stroke-width="1.1"/>
<text x="479.7" y="213.8" font-size="10.6">Gear 3 radial runout tolerance</text>
<line x1="492.2" y1="167.4" x2="497.2" y2="167.4" stroke="#111" stroke-width="1.1"/>
<text x="498" y="171.2" font-size="10.6">Gear 4 radial runout tolerance</text>
<line x1="508.4" y1="129.6" x2="513.4" y2="129.6" stroke="#111" stroke-width="1.1"/>
<text x="513.2" y="134.2" font-size="10.3">DA-LSTM prediction results</text>
<line x1="513.9" y1="113.3" x2="517.9" y2="113.3" stroke="#111" stroke-width="1"/>
<line x1="437.1" y1="288.6" x2="440.1" y2="288.6" stroke="#111" stroke-width="1"/>
<line x1="460.1" y1="235.1" x2="463.1" y2="235.1" stroke="#111" stroke-width="1"/>
<line x1="480" y1="188.7" x2="483" y2="188.7" stroke="#111" stroke-width="1"/>
<line x1="497.3" y1="148.5" x2="500.3" y2="148.5" stroke="#111" stroke-width="1"/>
<text x="74.4" y="204" font-size="12" text-anchor="end">0.00</text>
<text x="74.4" y="233.8" font-size="12" text-anchor="end">−0.01</text>
<text x="74.4" y="263.6" font-size="12" text-anchor="end">−0.02</text>
<text x="74.4" y="293.4" font-size="12" text-anchor="end">−0.03</text>
<text x="74.4" y="323.2" font-size="12" text-anchor="end">−0.04</text>
<text x="74.4" y="353" font-size="12" text-anchor="end">−0.05</text>
<text x="52.5" y="180" font-size="14.5">(mm)</text>
<text x="85.6" y="369.7" font-size="12" text-anchor="middle">0</text>
<text x="113" y="369.7" font-size="12" text-anchor="middle">5</text>
<text x="140.3" y="369.7" font-size="12" text-anchor="middle">10</text>
<text x="167.7" y="369.7" font-size="12" text-anchor="middle">15</text>
<text x="195.1" y="369.7" font-size="12" text-anchor="middle">20</text>
<text x="222.4" y="369.7" font-size="12" text-anchor="middle">25</text>
<text x="249.8" y="369.7" font-size="12" text-anchor="middle">30</text>
<text x="277.2" y="369.7" font-size="12" text-anchor="middle">35</text>
<text x="304.5" y="369.7" font-size="12" text-anchor="middle">40</text>
<text x="331.9" y="369.7" font-size="12" text-anchor="middle">45</text>
<text x="359.3" y="369.7" font-size="12" text-anchor="middle">50</text>
<text x="386.6" y="369.7" font-size="12" text-anchor="middle">55</text>
<text x="414" y="369.7" font-size="12" text-anchor="middle">60</text>
<text x="215" y="383.5" font-size="14.7">(gear tooth)</text>
<text x="0" y="412" font-size="15.4">(a) Comparison between the original data and the predicted curve of the radial runout tolerance of the gear ring</text>
<path d="M53.1,445.8 C54.9,445.3 60.7,442.9 63.8,442.7 C66.9,442.5 68.7,442.9 71.5,444.6 C74.3,446.3 76.6,449.7 80.7,452.9 C84.8,456.1 91.4,463.4 96,463.6 C100.6,463.9 104.2,456.7 108.2,454.4 C112.2,452.1 115.8,449.6 119.9,449.8 C124,450.1 128.9,454 132.8,455.9 C136.7,457.8 139.7,461.9 143.5,461.4 C147.3,460.9 152.2,454.8 155.8,452.9 C159.4,451 161.9,449 165,449.8 C168.1,450.6 171.1,453.1 174.2,457.5 C177.3,461.9 180.6,470.9 183.4,475.9 C186.2,480.9 188.2,487.5 191,487.5 C193.8,487.5 196.9,480.9 200.2,475.9 C203.5,470.9 208.1,460.7 210.9,457.5 C213.7,454.3 214.5,456.5 217.1,456.8 C219.7,457.1 223,459.3 226.3,459.3 C229.6,459.3 233.7,456.3 237,456.8 C240.3,457.3 243.4,460.7 246.2,462.1 C249,463.5 251,466.1 253.9,465.1 C256.8,464.1 260.9,458.1 263.8,455.9 C266.7,453.7 268.9,451.6 271.5,451.9 C274.1,452.2 276.3,456 279.1,457.5 C281.9,459 285.5,460.9 288.3,461.1 C291.1,461.4 292.9,460.6 296,459 C299.1,457.4 303.4,453.4 306.7,451.3 C310,449.2 312.8,447.8 315.9,446.7 C319,445.6 322,444.6 325.1,444.6 C328.2,444.6 331.2,445.1 334.3,446.7 C337.4,448.3 339.9,451.3 343.5,454.4 C347.1,457.5 352.2,462.5 355.8,465.1 C359.4,467.8 361.7,468.9 365,470.3 C368.3,471.7 372.4,472 375.7,473.4 C379,474.8 382.2,477.3 384.9,478.9 C387.5,480.5 389.1,483.4 391.6,482.9 C394.2,482.4 397.2,478.9 400.2,475.9 C403.2,472.9 406.3,467.4 409.4,465.1 C412.5,462.8 415.8,462.6 418.6,462.1 C421.4,461.7 423.5,462 426.3,462.4 C429.1,462.8 432.7,463.2 435.5,464.2 C438.3,465.2 440.6,466 443.1,468.2 C445.7,470.4 448,475.9 450.8,477.4 C453.6,478.9 456.5,479.9 459.9,477.1 C463.3,474.3 467.4,464.3 471.4,460.6 C475.4,456.9 480.1,455.1 483.9,455.1 C487.7,455.1 491,457.5 494.4,460.6 C497.8,463.7 501.1,470.4 504.3,473.8 C507.5,477.2 510.5,481.9 513.5,481.3 C516.5,480.8 518.9,473.8 522.3,470.5 C525.7,467.2 530.2,461.9 533.8,461.6 C537.4,461.3 540.4,465.8 543.7,468.9 C547,472 550.3,477.6 553.6,480.3 C556.9,483 560,484.1 563.4,485.3 C566.8,486.5 570.9,487.9 573.9,487.6 C576.9,487.3 578.9,486.7 581.5,483.6 C584.1,480.5 587.2,472.2 589.7,468.9 C592.2,465.6 593.8,463.6 596.3,463.9 C598.8,464.2 602,468.7 604.5,470.5 C607,472.3 608.5,475.6 611,474.8 C613.5,474 616.7,467.9 619.3,465.6 C621.9,463.4 624,460.8 626.5,461.3 C629,461.9 631.3,466 634,468.9 C636.7,471.8 639.9,478.7 642.9,478.7 C645.9,478.7 648.9,472.6 652.1,468.9 C655.3,465.2 659,459.1 662,456.4 C665,453.6 668.1,453.1 670.2,452.4 C672.3,451.7 673.8,452.4 674.5,452.4 L674.5,509 L53.1,509 Z" fill="url(#gPan0)"/>
<path d="M53.1,541.8 C54.6,540 59.2,534.3 62.3,531.1 C65.4,527.9 68.7,524.6 71.5,522.8 C74.3,521 76.5,519.7 79.1,520.3 C81.6,520.9 84.2,523.4 86.8,526.5 C89.4,529.6 92,536 94.5,538.7 C97,541.4 99,543.2 102.1,542.7 C105.1,542.2 109,537.6 112.8,535.7 C116.6,533.8 121.3,531.4 125.1,531.1 C128.9,530.8 132.5,533.1 135.8,534.1 C139.1,535.1 141.7,537.6 145,537.2 C148.3,536.9 152.5,533.4 155.8,532 C159.1,530.6 161.7,529.4 165,528.6 C168.3,527.8 172.4,528.2 175.7,527.4 C179,526.6 181.6,525.2 184.9,524 C188.2,522.8 192,521.2 195.6,520.3 C199.2,519.4 202.2,519.5 206.3,518.8 C210.4,518.1 216.3,516.4 220.1,516.3 C223.9,516.1 226.2,516.7 229.3,517.9 C232.4,519.1 235.4,522 238.5,523.4 C241.6,524.8 244.8,526.2 247.7,526.5 C250.6,526.8 252.9,526 256.1,524.9 C259.3,523.8 263.6,519.9 266.9,519.7 C270.2,519.6 272.8,522 276.1,524 C279.4,526 282.7,531.6 286.8,532 C290.9,532.4 296,527.4 300.6,526.5 C305.2,525.6 309.8,526.9 314.4,526.5 C319,526.1 324.4,523.8 328.2,524 C332,524.2 334.3,526.5 337.4,528 C340.5,529.5 343.5,533.2 346.6,533.2 C349.7,533.2 352.7,529.7 355.8,528 C358.9,526.3 361.9,522.5 365,522.8 C368.1,523 371.4,527.2 374.2,529.5 C377,531.8 379.2,534.9 381.8,536.3 C384.4,537.7 386.7,538.5 389.5,538.1 C392.3,537.7 395.6,536.3 398.7,534.1 C401.8,531.9 404.6,527.6 407.9,524.9 C411.2,522.2 415.3,519.4 418.6,517.9 C421.9,516.4 424.7,516.3 427.8,515.7 C430.9,515.1 433.9,513.9 437,514.2 C440.1,514.5 443.2,516.1 446.2,517.3 C449.2,518.5 452.4,521 455,521.4 C457.6,521.8 458,521.3 461.6,519.8 C465.2,518.3 472,513.3 476.4,512.6 C480.8,511.9 483.5,514.1 487.9,515.5 C492.3,516.9 498.2,521 502.6,520.8 C507,520.6 510.5,515.9 514.1,514.2 C517.7,512.6 520.7,511.1 524,510.9 C527.3,510.7 530.8,512 533.8,513.2 C536.8,514.4 539.4,516.4 542.1,518.1 C544.9,519.9 547,523.4 550.3,523.7 C553.6,524 558.8,520.2 561.8,519.8 C564.8,519.4 565.6,518.9 568.3,521.4 C571,523.9 575.2,531.4 578.2,534.6 C581.2,537.8 582.9,540 586.4,540.5 C589.9,541 595.1,539 599.5,537.9 C603.9,536.8 608.3,535.4 612.7,533.9 C617.1,532.4 621.4,530.2 625.8,528.7 C630.2,527.2 634.6,525.5 639,524.7 C643.4,523.9 648.3,524.7 652.1,524.1 C655.9,523.5 658.3,523.5 662,521.4 C665.7,519.3 672.3,513.2 674.4,511.6 L674.4,579.2 L53.1,579.2 Z" fill="url(#gPan1)"/>
<path d="M53.1,648.6 C53.9,645.5 55.9,636.9 57.7,630.2 C59.5,623.6 61.8,614.1 63.8,608.7 C65.8,603.3 67.9,600.1 69.9,598 C72,595.9 73.8,595.5 76.1,595.8 C78.4,596 80.9,596.6 83.7,599.5 C86.5,602.4 89.8,608.8 92.9,613.3 C96,617.8 99.1,623.3 102.1,626.5 C105.1,629.7 107.9,632.8 110.7,632.6 C113.5,632.5 116.3,629.6 119,625.6 C121.7,621.6 124,613.1 126.6,608.7 C129.2,604.4 131.7,601.4 134.3,599.5 C136.9,597.6 139.2,597.6 142,597.1 C144.8,596.6 148.1,596.7 151.2,596.5 C154.3,596.3 157.1,595 160.4,595.8 C163.7,596.6 167.5,599.2 171.1,601.1 C174.7,603 178.5,605.6 181.8,607.2 C185.1,608.8 187.9,609.7 191,610.9 C194.1,612.1 197.4,614.2 200.2,614.2 C203,614.2 205.1,613.7 207.9,611.2 C210.7,608.8 214.4,601.9 217.1,599.5 C219.8,597.1 221.5,596.6 223.8,597.1 C226.1,597.6 228.5,600.2 230.9,602.6 C233.3,605 235.7,609.6 238.5,611.2 C241.3,612.8 244.8,611.9 247.7,612.4 C250.6,612.9 252.9,612.5 256.1,614.2 C259.3,615.9 263.1,620.2 266.9,622.5 C270.7,624.8 275.3,628 279.1,627.7 C282.9,627.5 286.1,624.1 289.9,621 C293.7,617.9 298,611.6 302.1,609.3 C306.2,607 311.1,608.6 314.4,607.2 C317.7,605.8 319.6,603 322,601.1 C324.4,599.2 326.8,595.5 329.1,595.8 C331.4,596 333.7,598.9 335.8,602.6 C337.9,606.3 339.7,613.3 342,617.9 C344.3,622.5 347.1,629.2 349.6,630.2 C352.2,631.2 354.7,625.8 357.3,624 C359.9,622.2 361.9,619.6 365,619.5 C368.1,619.4 372.4,624.4 375.7,623.4 C379,622.4 381.6,617 384.9,613.3 C388.2,609.6 392.3,602.1 395.6,601.1 C398.9,600.1 402,604.7 404.8,607.2 C407.6,609.8 409.7,614.2 412.5,616.4 C415.3,618.6 418.1,620.6 421.7,620.4 C425.3,620.1 430.3,616.6 433.9,614.9 C437.5,613.2 439.6,611.8 443.1,610.3 C446.6,608.8 451.6,608.2 455,606.2 C458.4,604.2 460.5,600.7 463.2,598 C465.9,595.3 468.7,591.9 471.4,589.8 C474.1,587.7 476.9,586 479.6,585.5 C482.4,585 484.3,586.3 487.9,586.5 C491.5,586.7 497.4,586 501,586.5 C504.6,587 506.5,588.3 509.2,589.8 C511.9,591.3 514.1,594.1 517.4,595.4 C520.7,596.6 525.9,596.3 528.9,597.3 C531.9,598.3 533,598.7 535.5,601.3 C538,603.9 541,609.6 543.7,612.8 C546.4,616 549.2,619.8 551.9,620.3 C554.6,620.8 557.1,618.7 560.1,616.1 C563.1,613.5 566.4,608.4 570,604.6 C573.6,600.8 577.7,596 581.5,593.1 C585.3,590.2 588.9,588.4 593,587.5 C597.1,586.6 601.7,587.7 606.1,587.5 C610.5,587.3 616,586.1 619.3,586.5 C622.6,586.9 623.1,586.2 625.8,589.8 C628.5,593.4 632.5,603 635.7,607.9 C638.9,612.8 641.9,618.5 644.9,619.3 C647.9,620.1 650.7,615.1 653.8,612.8 C656.9,610.4 661.1,606.3 663.6,605.2 C666.1,604.1 666.7,605.5 668.5,606.2 C670.3,606.9 673.4,609 674.4,609.5 L674.4,649.5 L53.1,649.5 Z" fill="url(#gPan2)"/>
<path d="M53.1,658.8 C54.4,658.8 58.2,658.3 60.7,658.8 C63.2,659.3 65.6,659.6 68.4,661.9 C71.2,664.2 74.3,667.8 77.6,672.6 C80.9,677.5 85,686.3 88.3,691 C91.6,695.7 94.4,700.8 97.5,700.8 C100.6,700.8 103.6,696.5 106.7,691 C109.8,685.5 112.3,673.7 115.9,668 C119.5,662.3 124.6,657.9 128.2,656.6 C131.8,655.3 134.3,659.1 137.4,660.3 C140.5,661.5 143.5,663.3 146.6,664 C149.7,664.7 153,662.9 155.8,664.3 C158.6,665.7 160.9,668.7 163.4,672.6 C165.9,676.5 168.7,684.2 171.1,687.9 C173.5,691.6 175.5,696 178.1,695 C180.7,694 183.5,686.2 186.4,681.8 C189.3,677.4 192.8,670.4 195.6,668.6 C198.4,666.8 200.5,669.5 203.3,671.1 C206.1,672.7 209.4,676.1 212.5,678.1 C215.6,680.1 218.9,680.9 221.7,683.3 C224.5,685.7 227,689.2 229.3,692.5 C231.6,695.8 233.2,700.4 235.5,703.2 C237.8,706 240.3,708.9 243.1,709.4 C245.9,709.9 249.1,707.8 252.3,706.3 C255.5,704.8 258.6,703 262.3,700.2 C266,697.4 270.7,692.4 274.5,689.5 C278.3,686.6 282.2,683.2 285.3,682.7 C288.4,682.2 290.3,685.3 292.9,686.4 C295.4,687.5 297.8,690.8 300.6,689.5 C303.4,688.2 306.7,682.7 309.8,678.7 C312.9,674.8 316.2,668.4 319,665.8 C321.8,663.1 323.8,662.4 326.6,662.8 C329.4,663.2 332.5,666.1 335.8,668 C339.1,669.9 343,673 346.6,674.1 C350.2,675.2 354,673.9 357.3,674.7 C360.6,675.5 363.7,676.2 366.5,678.7 C369.3,681.2 371.4,685.1 374.2,689.5 C377,693.9 380.1,701.1 383.4,704.8 C386.7,708.5 390.5,711.1 394.1,711.8 C397.7,712.5 401,710.3 404.8,708.8 C408.6,707.3 413.3,703.9 417.1,702.6 C420.9,701.3 424.5,701.3 427.8,700.8 C431.1,700.3 433.9,701 437,699.6 C440.1,698.2 443.2,695 446.2,692.5 C449.2,690 452.4,686.2 455,684.4 C457.6,682.6 458.9,682.6 461.6,681.8 C464.3,681 468.4,681.1 471.4,679.5 C474.4,677.9 476.6,674.6 479.6,671.9 C482.6,669.2 485.9,665 489.5,663.1 C493.1,661.2 496.9,661.1 501,660.8 C505.1,660.5 510.6,660.2 514.1,661.4 C517.6,662.6 519.3,664.8 522.3,668 C525.3,671.2 529.2,679.1 532.2,680.5 C535.2,681.9 537.5,677.7 540.4,676.2 C543.3,674.7 546.8,671 549.6,671.3 C552.5,671.6 554.9,676 557.5,677.9 C560.1,679.8 562.5,683.1 565.1,682.8 C567.7,682.5 570.6,678.2 573.3,676.2 C576,674.2 578.8,670.8 581.5,670.6 C584.2,670.4 587.2,674 589.7,675.2 C592.2,676.4 593.8,678.3 596.3,677.9 C598.8,677.5 601.9,674.4 604.5,672.9 C607.1,671.4 609.3,668.2 612,668.7 C614.7,669.2 617.8,674.2 620.9,676.2 C624,678.2 627.5,680.2 630.8,680.5 C634.1,680.8 637.6,677.7 640.6,677.9 C643.6,678.1 646.3,680.6 648.8,681.8 C651.3,683 653.2,685.5 655.4,685.1 C657.6,684.7 659.8,682.9 662,679.5 C664.2,676.1 666.4,669.2 668.5,664.7 C670.6,660.2 673.4,654.3 674.4,652.2 L674.4,719.7 L53.1,719.7 Z" fill="url(#gPan3)"/>
<path d="M53.1,738.9 C54.1,738.2 56.9,736 59.2,734.9 C61.5,733.8 64.6,732.5 66.9,732.5 C69.2,732.5 70.7,733 73,734.9 C75.3,736.8 77.9,739.8 80.7,744.1 C83.5,748.5 87,756 89.9,761 C92.9,766 95.6,773.3 98.4,773.8 C101.2,774.3 103.8,768.7 106.7,764 C109.6,759.3 112.8,750.7 115.9,745.7 C119,740.7 122.5,736.3 125.1,734 C127.6,731.7 128.9,731.9 131.2,731.9 C133.5,731.9 136.3,733.4 138.9,734 C141.5,734.6 143.8,735.5 146.6,735.8 C149.4,736 153,734.4 155.8,735.5 C158.6,736.6 160.9,738.6 163.4,742.6 C165.9,746.6 168.7,755.3 171.1,759.5 C173.5,763.7 175.5,768.5 178.1,767.7 C180.7,766.9 183.3,758.5 186.4,754.9 C189.5,751.3 193.4,747.2 196.5,746.3 C199.6,745.4 202.1,748.3 204.8,749.3 C207.5,750.3 209.7,751.6 212.5,752.4 C215.3,753.2 218.9,752.3 221.7,754.2 C224.5,756.1 226.8,760.6 229.3,764 C231.9,767.4 234.4,772.4 237,774.8 C239.6,777.2 242.1,778.4 244.7,778.5 C247.2,778.6 249.9,776.7 252.3,775.7 C254.7,774.7 256.3,773.8 259.2,772.6 C262.1,771.4 266.6,770.3 269.9,768.6 C273.2,766.9 276.3,764.2 279.1,762.5 C281.9,760.8 284.2,758.9 286.8,758.5 C289.4,758.1 291.9,760 294.5,760.4 C297.1,760.8 299.6,762.2 302.1,761 C304.7,759.8 307,757 309.8,753.3 C312.6,749.6 315.8,742.5 319,738.9 C322.2,735.3 326,732.3 329.1,731.9 C332.2,731.5 334.2,733.6 337.4,736.5 C340.6,739.4 344.8,747 348.1,749.3 C351.4,751.6 354.5,749.8 357.3,750.3 C360.1,750.8 362.2,750.1 365,752.4 C367.8,754.7 370.9,760 374.2,764 C377.5,768 381.1,773.7 384.9,776.3 C388.7,778.9 393.5,779 397.1,779.4 C400.7,779.8 403,779.3 406.3,778.5 C409.6,777.7 414,775.8 417.1,774.8 C420.2,773.8 421.4,773 424.7,772.6 C428,772.2 433.4,773.3 437,772.6 C440.6,771.9 443.2,770.8 446.2,768.6 C449.2,766.4 452.4,761.4 455,759.3 C457.6,757.2 459.1,757.2 461.6,756.1 C464.1,755 466.8,755 469.8,752.8 C472.8,750.6 476.1,746 479.6,742.9 C483.2,739.8 487,735.5 491.1,734.1 C495.2,732.7 500.5,734.2 504.3,734.7 C508.1,735.2 510.8,734.8 514.1,737.3 C517.4,739.8 520.7,746 524,749.5 C527.3,753 530.8,757.7 533.8,758.4 C536.8,759.1 539.4,755.1 542.1,753.8 C544.9,752.5 547.8,750.3 550.3,750.5 C552.8,750.7 554.3,753.6 556.8,755.1 C559.3,756.6 562.4,759.8 565.1,759.3 C567.9,758.8 570.3,754.5 573.3,751.8 C576.3,749.1 579.5,743.8 583.1,742.9 C586.7,742 591.3,746.2 594.6,746.2 C597.9,746.2 600.1,744.3 602.8,742.9 C605.5,741.5 608.2,737.7 611,738 C613.8,738.3 616.3,742.5 619.3,744.6 C622.3,746.7 625.5,749.5 629.1,750.5 C632.7,751.5 637.3,749.9 640.6,750.5 C643.9,751.1 646.2,752.9 648.8,754.4 C651.4,755.9 653.5,759.3 656,759.3 C658.5,759.3 661.2,757.9 663.6,754.4 C666,750.9 668.4,743.5 670.2,738 C672,732.5 673.7,724.3 674.4,721.6 L674.4,790.3 L53.1,790.3 Z" fill="url(#gPan4)"/>
<path d="M53.1,445.8 C54.9,445.3 60.7,442.9 63.8,442.7 C66.9,442.5 68.7,442.9 71.5,444.6 C74.3,446.3 76.6,449.7 80.7,452.9 C84.8,456.1 91.4,463.4 96,463.6 C100.6,463.9 104.2,456.7 108.2,454.4 C112.2,452.1 115.8,449.6 119.9,449.8 C124,450.1 128.9,454 132.8,455.9 C136.7,457.8 139.7,461.9 143.5,461.4 C147.3,460.9 152.2,454.8 155.8,452.9 C159.4,451 161.9,449 165,449.8 C168.1,450.6 171.1,453.1 174.2,457.5 C177.3,461.9 180.6,470.9 183.4,475.9 C186.2,480.9 188.2,487.5 191,487.5 C193.8,487.5 196.9,480.9 200.2,475.9 C203.5,470.9 208.1,460.7 210.9,457.5 C213.7,454.3 214.5,456.5 217.1,456.8 C219.7,457.1 223,459.3 226.3,459.3 C229.6,459.3 233.7,456.3 237,456.8 C240.3,457.3 243.4,460.7 246.2,462.1 C249,463.5 251,466.1 253.9,465.1 C256.8,464.1 260.9,458.1 263.8,455.9 C266.7,453.7 268.9,451.6 271.5,451.9 C274.1,452.2 276.3,456 279.1,457.5 C281.9,459 285.5,460.9 288.3,461.1 C291.1,461.4 292.9,460.6 296,459 C299.1,457.4 303.4,453.4 306.7,451.3 C310,449.2 312.8,447.8 315.9,446.7 C319,445.6 322,444.6 325.1,444.6 C328.2,444.6 331.2,445.1 334.3,446.7 C337.4,448.3 339.9,451.3 343.5,454.4 C347.1,457.5 352.2,462.5 355.8,465.1 C359.4,467.8 361.7,468.9 365,470.3 C368.3,471.7 372.4,472 375.7,473.4 C379,474.8 382.2,477.3 384.9,478.9 C387.5,480.5 389.1,483.4 391.6,482.9 C394.2,482.4 397.2,478.9 400.2,475.9 C403.2,472.9 406.3,467.4 409.4,465.1 C412.5,462.8 415.8,462.6 418.6,462.1 C421.4,461.7 423.5,462 426.3,462.4 C429.1,462.8 432.7,463.2 435.5,464.2 C438.3,465.2 440.6,466 443.1,468.2 C445.7,470.4 448,475.9 450.8,477.4 C453.6,478.9 456.5,479.9 459.9,477.1 C463.3,474.3 467.4,464.3 471.4,460.6 C475.4,456.9 480.1,455.1 483.9,455.1 C487.7,455.1 491,457.5 494.4,460.6 C497.8,463.7 501.1,470.4 504.3,473.8 C507.5,477.2 510.5,481.9 513.5,481.3 C516.5,480.8 518.9,473.8 522.3,470.5 C525.7,467.2 530.2,461.9 533.8,461.6 C537.4,461.3 540.4,465.8 543.7,468.9 C547,472 550.3,477.6 553.6,480.3 C556.9,483 560,484.1 563.4,485.3 C566.8,486.5 570.9,487.9 573.9,487.6 C576.9,487.3 578.9,486.7 581.5,483.6 C584.1,480.5 587.2,472.2 589.7,468.9 C592.2,465.6 593.8,463.6 596.3,463.9 C598.8,464.2 602,468.7 604.5,470.5 C607,472.3 608.5,475.6 611,474.8 C613.5,474 616.7,467.9 619.3,465.6 C621.9,463.4 624,460.8 626.5,461.3 C629,461.9 631.3,466 634,468.9 C636.7,471.8 639.9,478.7 642.9,478.7 C645.9,478.7 648.9,472.6 652.1,468.9 C655.3,465.2 659,459.1 662,456.4 C665,453.6 668.1,453.1 670.2,452.4 C672.3,451.7 673.8,452.4 674.5,452.4" fill="none" stroke="#1f951f" stroke-width="1.8"/>
<path d="M53.1,541.8 C54.6,540 59.2,534.3 62.3,531.1 C65.4,527.9 68.7,524.6 71.5,522.8 C74.3,521 76.5,519.7 79.1,520.3 C81.6,520.9 84.2,523.4 86.8,526.5 C89.4,529.6 92,536 94.5,538.7 C97,541.4 99,543.2 102.1,542.7 C105.1,542.2 109,537.6 112.8,535.7 C116.6,533.8 121.3,531.4 125.1,531.1 C128.9,530.8 132.5,533.1 135.8,534.1 C139.1,535.1 141.7,537.6 145,537.2 C148.3,536.9 152.5,533.4 155.8,532 C159.1,530.6 161.7,529.4 165,528.6 C168.3,527.8 172.4,528.2 175.7,527.4 C179,526.6 181.6,525.2 184.9,524 C188.2,522.8 192,521.2 195.6,520.3 C199.2,519.4 202.2,519.5 206.3,518.8 C210.4,518.1 216.3,516.4 220.1,516.3 C223.9,516.1 226.2,516.7 229.3,517.9 C232.4,519.1 235.4,522 238.5,523.4 C241.6,524.8 244.8,526.2 247.7,526.5 C250.6,526.8 252.9,526 256.1,524.9 C259.3,523.8 263.6,519.9 266.9,519.7 C270.2,519.6 272.8,522 276.1,524 C279.4,526 282.7,531.6 286.8,532 C290.9,532.4 296,527.4 300.6,526.5 C305.2,525.6 309.8,526.9 314.4,526.5 C319,526.1 324.4,523.8 328.2,524 C332,524.2 334.3,526.5 337.4,528 C340.5,529.5 343.5,533.2 346.6,533.2 C349.7,533.2 352.7,529.7 355.8,528 C358.9,526.3 361.9,522.5 365,522.8 C368.1,523 371.4,527.2 374.2,529.5 C377,531.8 379.2,534.9 381.8,536.3 C384.4,537.7 386.7,538.5 389.5,538.1 C392.3,537.7 395.6,536.3 398.7,534.1 C401.8,531.9 404.6,527.6 407.9,524.9 C411.2,522.2 415.3,519.4 418.6,517.9 C421.9,516.4 424.7,516.3 427.8,515.7 C430.9,515.1 433.9,513.9 437,514.2 C440.1,514.5 443.2,516.1 446.2,517.3 C449.2,518.5 452.4,521 455,521.4 C457.6,521.8 458,521.3 461.6,519.8 C465.2,518.3 472,513.3 476.4,512.6 C480.8,511.9 483.5,514.1 487.9,515.5 C492.3,516.9 498.2,521 502.6,520.8 C507,520.6 510.5,515.9 514.1,514.2 C517.7,512.6 520.7,511.1 524,510.9 C527.3,510.7 530.8,512 533.8,513.2 C536.8,514.4 539.4,516.4 542.1,518.1 C544.9,519.9 547,523.4 550.3,523.7 C553.6,524 558.8,520.2 561.8,519.8 C564.8,519.4 565.6,518.9 568.3,521.4 C571,523.9 575.2,531.4 578.2,534.6 C581.2,537.8 582.9,540 586.4,540.5 C589.9,541 595.1,539 599.5,537.9 C603.9,536.8 608.3,535.4 612.7,533.9 C617.1,532.4 621.4,530.2 625.8,528.7 C630.2,527.2 634.6,525.5 639,524.7 C643.4,523.9 648.3,524.7 652.1,524.1 C655.9,523.5 658.3,523.5 662,521.4 C665.7,519.3 672.3,513.2 674.4,511.6" fill="none" stroke="#1f951f" stroke-width="1.8"/>
<path d="M53.1,648.6 C53.9,645.5 55.9,636.9 57.7,630.2 C59.5,623.6 61.8,614.1 63.8,608.7 C65.8,603.3 67.9,600.1 69.9,598 C72,595.9 73.8,595.5 76.1,595.8 C78.4,596 80.9,596.6 83.7,599.5 C86.5,602.4 89.8,608.8 92.9,613.3 C96,617.8 99.1,623.3 102.1,626.5 C105.1,629.7 107.9,632.8 110.7,632.6 C113.5,632.5 116.3,629.6 119,625.6 C121.7,621.6 124,613.1 126.6,608.7 C129.2,604.4 131.7,601.4 134.3,599.5 C136.9,597.6 139.2,597.6 142,597.1 C144.8,596.6 148.1,596.7 151.2,596.5 C154.3,596.3 157.1,595 160.4,595.8 C163.7,596.6 167.5,599.2 171.1,601.1 C174.7,603 178.5,605.6 181.8,607.2 C185.1,608.8 187.9,609.7 191,610.9 C194.1,612.1 197.4,614.2 200.2,614.2 C203,614.2 205.1,613.7 207.9,611.2 C210.7,608.8 214.4,601.9 217.1,599.5 C219.8,597.1 221.5,596.6 223.8,597.1 C226.1,597.6 228.5,600.2 230.9,602.6 C233.3,605 235.7,609.6 238.5,611.2 C241.3,612.8 244.8,611.9 247.7,612.4 C250.6,612.9 252.9,612.5 256.1,614.2 C259.3,615.9 263.1,620.2 266.9,622.5 C270.7,624.8 275.3,628 279.1,627.7 C282.9,627.5 286.1,624.1 289.9,621 C293.7,617.9 298,611.6 302.1,609.3 C306.2,607 311.1,608.6 314.4,607.2 C317.7,605.8 319.6,603 322,601.1 C324.4,599.2 326.8,595.5 329.1,595.8 C331.4,596 333.7,598.9 335.8,602.6 C337.9,606.3 339.7,613.3 342,617.9 C344.3,622.5 347.1,629.2 349.6,630.2 C352.2,631.2 354.7,625.8 357.3,624 C359.9,622.2 361.9,619.6 365,619.5 C368.1,619.4 372.4,624.4 375.7,623.4 C379,622.4 381.6,617 384.9,613.3 C388.2,609.6 392.3,602.1 395.6,601.1 C398.9,600.1 402,604.7 404.8,607.2 C407.6,609.8 409.7,614.2 412.5,616.4 C415.3,618.6 418.1,620.6 421.7,620.4 C425.3,620.1 430.3,616.6 433.9,614.9 C437.5,613.2 439.6,611.8 443.1,610.3 C446.6,608.8 451.6,608.2 455,606.2 C458.4,604.2 460.5,600.7 463.2,598 C465.9,595.3 468.7,591.9 471.4,589.8 C474.1,587.7 476.9,586 479.6,585.5 C482.4,585 484.3,586.3 487.9,586.5 C491.5,586.7 497.4,586 501,586.5 C504.6,587 506.5,588.3 509.2,589.8 C511.9,591.3 514.1,594.1 517.4,595.4 C520.7,596.6 525.9,596.3 528.9,597.3 C531.9,598.3 533,598.7 535.5,601.3 C538,603.9 541,609.6 543.7,612.8 C546.4,616 549.2,619.8 551.9,620.3 C554.6,620.8 557.1,618.7 560.1,616.1 C563.1,613.5 566.4,608.4 570,604.6 C573.6,600.8 577.7,596 581.5,593.1 C585.3,590.2 588.9,588.4 593,587.5 C597.1,586.6 601.7,587.7 606.1,587.5 C610.5,587.3 616,586.1 619.3,586.5 C622.6,586.9 623.1,586.2 625.8,589.8 C628.5,593.4 632.5,603 635.7,607.9 C638.9,612.8 641.9,618.5 644.9,619.3 C647.9,620.1 650.7,615.1 653.8,612.8 C656.9,610.4 661.1,606.3 663.6,605.2 C666.1,604.1 666.7,605.5 668.5,606.2 C670.3,606.9 673.4,609 674.4,609.5" fill="none" stroke="#1f951f" stroke-width="1.8"/>
<path d="M53.1,658.8 C54.4,658.8 58.2,658.3 60.7,658.8 C63.2,659.3 65.6,659.6 68.4,661.9 C71.2,664.2 74.3,667.8 77.6,672.6 C80.9,677.5 85,686.3 88.3,691 C91.6,695.7 94.4,700.8 97.5,700.8 C100.6,700.8 103.6,696.5 106.7,691 C109.8,685.5 112.3,673.7 115.9,668 C119.5,662.3 124.6,657.9 128.2,656.6 C131.8,655.3 134.3,659.1 137.4,660.3 C140.5,661.5 143.5,663.3 146.6,664 C149.7,664.7 153,662.9 155.8,664.3 C158.6,665.7 160.9,668.7 163.4,672.6 C165.9,676.5 168.7,684.2 171.1,687.9 C173.5,691.6 175.5,696 178.1,695 C180.7,694 183.5,686.2 186.4,681.8 C189.3,677.4 192.8,670.4 195.6,668.6 C198.4,666.8 200.5,669.5 203.3,671.1 C206.1,672.7 209.4,676.1 212.5,678.1 C215.6,680.1 218.9,680.9 221.7,683.3 C224.5,685.7 227,689.2 229.3,692.5 C231.6,695.8 233.2,700.4 235.5,703.2 C237.8,706 240.3,708.9 243.1,709.4 C245.9,709.9 249.1,707.8 252.3,706.3 C255.5,704.8 258.6,703 262.3,700.2 C266,697.4 270.7,692.4 274.5,689.5 C278.3,686.6 282.2,683.2 285.3,682.7 C288.4,682.2 290.3,685.3 292.9,686.4 C295.4,687.5 297.8,690.8 300.6,689.5 C303.4,688.2 306.7,682.7 309.8,678.7 C312.9,674.8 316.2,668.4 319,665.8 C321.8,663.1 323.8,662.4 326.6,662.8 C329.4,663.2 332.5,666.1 335.8,668 C339.1,669.9 343,673 346.6,674.1 C350.2,675.2 354,673.9 357.3,674.7 C360.6,675.5 363.7,676.2 366.5,678.7 C369.3,681.2 371.4,685.1 374.2,689.5 C377,693.9 380.1,701.1 383.4,704.8 C386.7,708.5 390.5,711.1 394.1,711.8 C397.7,712.5 401,710.3 404.8,708.8 C408.6,707.3 413.3,703.9 417.1,702.6 C420.9,701.3 424.5,701.3 427.8,700.8 C431.1,700.3 433.9,701 437,699.6 C440.1,698.2 443.2,695 446.2,692.5 C449.2,690 452.4,686.2 455,684.4 C457.6,682.6 458.9,682.6 461.6,681.8 C464.3,681 468.4,681.1 471.4,679.5 C474.4,677.9 476.6,674.6 479.6,671.9 C482.6,669.2 485.9,665 489.5,663.1 C493.1,661.2 496.9,661.1 501,660.8 C505.1,660.5 510.6,660.2 514.1,661.4 C517.6,662.6 519.3,664.8 522.3,668 C525.3,671.2 529.2,679.1 532.2,680.5 C535.2,681.9 537.5,677.7 540.4,676.2 C543.3,674.7 546.8,671 549.6,671.3 C552.5,671.6 554.9,676 557.5,677.9 C560.1,679.8 562.5,683.1 565.1,682.8 C567.7,682.5 570.6,678.2 573.3,676.2 C576,674.2 578.8,670.8 581.5,670.6 C584.2,670.4 587.2,674 589.7,675.2 C592.2,676.4 593.8,678.3 596.3,677.9 C598.8,677.5 601.9,674.4 604.5,672.9 C607.1,671.4 609.3,668.2 612,668.7 C614.7,669.2 617.8,674.2 620.9,676.2 C624,678.2 627.5,680.2 630.8,680.5 C634.1,680.8 637.6,677.7 640.6,677.9 C643.6,678.1 646.3,680.6 648.8,681.8 C651.3,683 653.2,685.5 655.4,685.1 C657.6,684.7 659.8,682.9 662,679.5 C664.2,676.1 666.4,669.2 668.5,664.7 C670.6,660.2 673.4,654.3 674.4,652.2" fill="none" stroke="#1f951f" stroke-width="1.8"/>
<path d="M53.1,738.9 C54.1,738.2 56.9,736 59.2,734.9 C61.5,733.8 64.6,732.5 66.9,732.5 C69.2,732.5 70.7,733 73,734.9 C75.3,736.8 77.9,739.8 80.7,744.1 C83.5,748.5 87,756 89.9,761 C92.9,766 95.6,773.3 98.4,773.8 C101.2,774.3 103.8,768.7 106.7,764 C109.6,759.3 112.8,750.7 115.9,745.7 C119,740.7 122.5,736.3 125.1,734 C127.6,731.7 128.9,731.9 131.2,731.9 C133.5,731.9 136.3,733.4 138.9,734 C141.5,734.6 143.8,735.5 146.6,735.8 C149.4,736 153,734.4 155.8,735.5 C158.6,736.6 160.9,738.6 163.4,742.6 C165.9,746.6 168.7,755.3 171.1,759.5 C173.5,763.7 175.5,768.5 178.1,767.7 C180.7,766.9 183.3,758.5 186.4,754.9 C189.5,751.3 193.4,747.2 196.5,746.3 C199.6,745.4 202.1,748.3 204.8,749.3 C207.5,750.3 209.7,751.6 212.5,752.4 C215.3,753.2 218.9,752.3 221.7,754.2 C224.5,756.1 226.8,760.6 229.3,764 C231.9,767.4 234.4,772.4 237,774.8 C239.6,777.2 242.1,778.4 244.7,778.5 C247.2,778.6 249.9,776.7 252.3,775.7 C254.7,774.7 256.3,773.8 259.2,772.6 C262.1,771.4 266.6,770.3 269.9,768.6 C273.2,766.9 276.3,764.2 279.1,762.5 C281.9,760.8 284.2,758.9 286.8,758.5 C289.4,758.1 291.9,760 294.5,760.4 C297.1,760.8 299.6,762.2 302.1,761 C304.7,759.8 307,757 309.8,753.3 C312.6,749.6 315.8,742.5 319,738.9 C322.2,735.3 326,732.3 329.1,731.9 C332.2,731.5 334.2,733.6 337.4,736.5 C340.6,739.4 344.8,747 348.1,749.3 C351.4,751.6 354.5,749.8 357.3,750.3 C360.1,750.8 362.2,750.1 365,752.4 C367.8,754.7 370.9,760 374.2,764 C377.5,768 381.1,773.7 384.9,776.3 C388.7,778.9 393.5,779 397.1,779.4 C400.7,779.8 403,779.3 406.3,778.5 C409.6,777.7 414,775.8 417.1,774.8 C420.2,773.8 421.4,773 424.7,772.6 C428,772.2 433.4,773.3 437,772.6 C440.6,771.9 443.2,770.8 446.2,768.6 C449.2,766.4 452.4,761.4 455,759.3 C457.6,757.2 459.1,757.2 461.6,756.1 C464.1,755 466.8,755 469.8,752.8 C472.8,750.6 476.1,746 479.6,742.9 C483.2,739.8 487,735.5 491.1,734.1 C495.2,732.7 500.5,734.2 504.3,734.7 C508.1,735.2 510.8,734.8 514.1,737.3 C517.4,739.8 520.7,746 524,749.5 C527.3,753 530.8,757.7 533.8,758.4 C536.8,759.1 539.4,755.1 542.1,753.8 C544.9,752.5 547.8,750.3 550.3,750.5 C552.8,750.7 554.3,753.6 556.8,755.1 C559.3,756.6 562.4,759.8 565.1,759.3 C567.9,758.8 570.3,754.5 573.3,751.8 C576.3,749.1 579.5,743.8 583.1,742.9 C586.7,742 591.3,746.2 594.6,746.2 C597.9,746.2 600.1,744.3 602.8,742.9 C605.5,741.5 608.2,737.7 611,738 C613.8,738.3 616.3,742.5 619.3,744.6 C622.3,746.7 625.5,749.5 629.1,750.5 C632.7,751.5 637.3,749.9 640.6,750.5 C643.9,751.1 646.2,752.9 648.8,754.4 C651.4,755.9 653.5,759.3 656,759.3 C658.5,759.3 661.2,757.9 663.6,754.4 C666,750.9 668.4,743.5 670.2,738 C672,732.5 673.7,724.3 674.4,721.6" fill="none" stroke="#1f951f" stroke-width="1.8"/>
<line x1="53.0" y1="438.5" x2="674.4" y2="438.5" stroke="#555" stroke-width="1.1"/>
<line x1="674.4" y1="438.5" x2="674.4" y2="790.3" stroke="#555" stroke-width="1.1"/>
<line x1="53.0" y1="509.0" x2="674.4" y2="509.0" stroke="#666" stroke-width="1.3"/>
<line x1="53.0" y1="579.2" x2="674.4" y2="579.2" stroke="#666" stroke-width="1.3"/>
<line x1="53.0" y1="649.5" x2="674.4" y2="649.5" stroke="#666" stroke-width="1.3"/>
<line x1="53.0" y1="719.7" x2="674.4" y2="719.7" stroke="#666" stroke-width="1.3"/>
<line x1="53.0" y1="790.3" x2="674.4" y2="790.3" stroke="#222" stroke-width="1.2"/>
<line x1="53.0" y1="438.5" x2="53.0" y2="790.3" stroke="#111" stroke-width="1.4"/>
<line x1="50.8" y1="438.5" x2="53.0" y2="438.5" stroke="#111" stroke-width="0.7"/>
<line x1="50.8" y1="442" x2="53.0" y2="442" stroke="#111" stroke-width="0.7"/>
<line x1="50.8" y1="445.4" x2="53.0" y2="445.4" stroke="#111" stroke-width="0.7"/>
<line x1="50.8" y1="448.9" x2="53.0" y2="448.9" stroke="#111" stroke-width="0.7"/>
<line x1="50.8" y1="452.4" x2="53.0" y2="452.4" stroke="#111" stroke-width="0.7"/>
<line x1="50.8" y1="455.9" x2="53.0" y2="455.9" stroke="#111" stroke-width="0.7"/>
<line x1="50.8" y1="459.3" x2="53.0" y2="459.3" stroke="#111" stroke-width="0.7"/>
<line x1="50.8" y1="462.8" x2="53.0" y2="462.8" stroke="#111" stroke-width="0.7"/>
<line x1="50.8" y1="466.3" x2="53.0" y2="466.3" stroke="#111" stroke-width="0.7"/>
<line x1="50.8" y1="469.7" x2="53.0" y2="469.7" stroke="#111" stroke-width="0.7"/>
<line x1="50.8" y1="473.2" x2="53.0" y2="473.2" stroke="#111" stroke-width="0.7"/>
<line x1="50.8" y1="476.7" x2="53.0" y2="476.7" stroke="#111" stroke-width="0.7"/>
<line x1="50.8" y1="480.1" x2="53.0" y2="480.1" stroke="#111" stroke-width="0.7"/>
<line x1="50.8" y1="483.6" x2="53.0" y2="483.6" stroke="#111" stroke-width="0.7"/>
<line x1="50.8" y1="487.1" x2="53.0" y2="487.1" stroke="#111" stroke-width="0.7"/>
<line x1="50.8" y1="490.6" x2="53.0" y2="490.6" stroke="#111" stroke-width="0.7"/>
<line x1="50.8" y1="494" x2="53.0" y2="494" stroke="#111" stroke-width="0.7"/>
<line x1="50.8" y1="497.5" x2="53.0" y2="497.5" stroke="#111" stroke-width="0.7"/>
<line x1="50.8" y1="501" x2="53.0" y2="501" stroke="#111" stroke-width="0.7"/>
<line x1="50.8" y1="504.4" x2="53.0" y2="504.4" stroke="#111" stroke-width="0.7"/>
<line x1="50.8" y1="507.9" x2="53.0" y2="507.9" stroke="#111" stroke-width="0.7"/>
<line x1="50.8" y1="511.4" x2="53.0" y2="511.4" stroke="#111" stroke-width="0.7"/>
<line x1="50.8" y1="514.8" x2="53.0" y2="514.8" stroke="#111" stroke-width="0.7"/>
<line x1="50.8" y1="518.3" x2="53.0" y2="518.3" stroke="#111" stroke-width="0.7"/>
<line x1="50.8" y1="521.8" x2="53.0" y2="521.8" stroke="#111" stroke-width="0.7"/>
<line x1="50.8" y1="525.3" x2="53.0" y2="525.3" stroke="#111" stroke-width="0.7"/>
<line x1="50.8" y1="528.7" x2="53.0" y2="528.7" stroke="#111" stroke-width="0.7"/>
<line x1="50.8" y1="532.2" x2="53.0" y2="532.2" stroke="#111" stroke-width="0.7"/>
<line x1="50.8" y1="535.7" x2="53.0" y2="535.7" stroke="#111" stroke-width="0.7"/>
<line x1="50.8" y1="539.1" x2="53.0" y2="539.1" stroke="#111" stroke-width="0.7"/>
<line x1="50.8" y1="542.6" x2="53.0" y2="542.6" stroke="#111" stroke-width="0.7"/>
<line x1="50.8" y1="546.1" x2="53.0" y2="546.1" stroke="#111" stroke-width="0.7"/>
<line x1="50.8" y1="549.5" x2="53.0" y2="549.5" stroke="#111" stroke-width="0.7"/>
<line x1="50.8" y1="553" x2="53.0" y2="553" stroke="#111" stroke-width="0.7"/>
<line x1="50.8" y1="556.5" x2="53.0" y2="556.5" stroke="#111" stroke-width="0.7"/>
<line x1="50.8" y1="560" x2="53.0" y2="560" stroke="#111" stroke-width="0.7"/>
<line x1="50.8" y1="563.4" x2="53.0" y2="563.4" stroke="#111" stroke-width="0.7"/>
<line x1="50.8" y1="566.9" x2="53.0" y2="566.9" stroke="#111" stroke-width="0.7"/>
<line x1="50.8" y1="570.4" x2="53.0" y2="570.4" stroke="#111" stroke-width="0.7"/>
<line x1="50.8" y1="573.8" x2="53.0" y2="573.8" stroke="#111" stroke-width="0.7"/>
<line x1="50.8" y1="577.3" x2="53.0" y2="577.3" stroke="#111" stroke-width="0.7"/>
<line x1="50.8" y1="580.8" x2="53.0" y2="580.8" stroke="#111" stroke-width="0.7"/>
<line x1="50.8" y1="584.2" x2="53.0" y2="584.2" stroke="#111" stroke-width="0.7"/>
<line x1="50.8" y1="587.7" x2="53.0" y2="587.7" stroke="#111" stroke-width="0.7"/>
<line x1="50.8" y1="591.2" x2="53.0" y2="591.2" stroke="#111" stroke-width="0.7"/>
<line x1="50.8" y1="594.7" x2="53.0" y2="594.7" stroke="#111" stroke-width="0.7"/>
<line x1="50.8" y1="598.1" x2="53.0" y2="598.1" stroke="#111" stroke-width="0.7"/>
<line x1="50.8" y1="601.6" x2="53.0" y2="601.6" stroke="#111" stroke-width="0.7"/>
<line x1="50.8" y1="605.1" x2="53.0" y2="605.1" stroke="#111" stroke-width="0.7"/>
<line x1="50.8" y1="608.5" x2="53.0" y2="608.5" stroke="#111" stroke-width="0.7"/>
<line x1="50.8" y1="612" x2="53.0" y2="612" stroke="#111" stroke-width="0.7"/>
<line x1="50.8" y1="615.5" x2="53.0" y2="615.5" stroke="#111" stroke-width="0.7"/>
<line x1="50.8" y1="618.9" x2="53.0" y2="618.9" stroke="#111" stroke-width="0.7"/>
<line x1="50.8" y1="622.4" x2="53.0" y2="622.4" stroke="#111" stroke-width="0.7"/>
<line x1="50.8" y1="625.9" x2="53.0" y2="625.9" stroke="#111" stroke-width="0.7"/>
<line x1="50.8" y1="629.4" x2="53.0" y2="629.4" stroke="#111" stroke-width="0.7"/>
<line x1="50.8" y1="632.8" x2="53.0" y2="632.8" stroke="#111" stroke-width="0.7"/>
<line x1="50.8" y1="636.3" x2="53.0" y2="636.3" stroke="#111" stroke-width="0.7"/>
<line x1="50.8" y1="639.8" x2="53.0" y2="639.8" stroke="#111" stroke-width="0.7"/>
<line x1="50.8" y1="643.2" x2="53.0" y2="643.2" stroke="#111" stroke-width="0.7"/>
<line x1="50.8" y1="646.7" x2="53.0" y2="646.7" stroke="#111" stroke-width="0.7"/>
<line x1="50.8" y1="650.2" x2="53.0" y2="650.2" stroke="#111" stroke-width="0.7"/>
<line x1="50.8" y1="653.6" x2="53.0" y2="653.6" stroke="#111" stroke-width="0.7"/>
<line x1="50.8" y1="657.1" x2="53.0" y2="657.1" stroke="#111" stroke-width="0.7"/>
<line x1="50.8" y1="660.6" x2="53.0" y2="660.6" stroke="#111" stroke-width="0.7"/>
<line x1="50.8" y1="664.1" x2="53.0" y2="664.1" stroke="#111" stroke-width="0.7"/>
<line x1="50.8" y1="667.5" x2="53.0" y2="667.5" stroke="#111" stroke-width="0.7"/>
<line x1="50.8" y1="671" x2="53.0" y2="671" stroke="#111" stroke-width="0.7"/>
<line x1="50.8" y1="674.5" x2="53.0" y2="674.5" stroke="#111" stroke-width="0.7"/>
<line x1="50.8" y1="677.9" x2="53.0" y2="677.9" stroke="#111" stroke-width="0.7"/>
<line x1="50.8" y1="681.4" x2="53.0" y2="681.4" stroke="#111" stroke-width="0.7"/>
<line x1="50.8" y1="684.9" x2="53.0" y2="684.9" stroke="#111" stroke-width="0.7"/>
<line x1="50.8" y1="688.3" x2="53.0" y2="688.3" stroke="#111" stroke-width="0.7"/>
<line x1="50.8" y1="691.8" x2="53.0" y2="691.8" stroke="#111" stroke-width="0.7"/>
<line x1="50.8" y1="695.3" x2="53.0" y2="695.3" stroke="#111" stroke-width="0.7"/>
<line x1="50.8" y1="698.8" x2="53.0" y2="698.8" stroke="#111" stroke-width="0.7"/>
<line x1="50.8" y1="702.2" x2="53.0" y2="702.2" stroke="#111" stroke-width="0.7"/>
<line x1="50.8" y1="705.7" x2="53.0" y2="705.7" stroke="#111" stroke-width="0.7"/>
<line x1="50.8" y1="709.2" x2="53.0" y2="709.2" stroke="#111" stroke-width="0.7"/>
<line x1="50.8" y1="712.6" x2="53.0" y2="712.6" stroke="#111" stroke-width="0.7"/>
<line x1="50.8" y1="716.1" x2="53.0" y2="716.1" stroke="#111" stroke-width="0.7"/>
<line x1="50.8" y1="719.6" x2="53.0" y2="719.6" stroke="#111" stroke-width="0.7"/>
<line x1="50.8" y1="723" x2="53.0" y2="723" stroke="#111" stroke-width="0.7"/>
<line x1="50.8" y1="726.5" x2="53.0" y2="726.5" stroke="#111" stroke-width="0.7"/>
<line x1="50.8" y1="730" x2="53.0" y2="730" stroke="#111" stroke-width="0.7"/>
<line x1="50.8" y1="733.5" x2="53.0" y2="733.5" stroke="#111" stroke-width="0.7"/>
<line x1="50.8" y1="736.9" x2="53.0" y2="736.9" stroke="#111" stroke-width="0.7"/>
<line x1="50.8" y1="740.4" x2="53.0" y2="740.4" stroke="#111" stroke-width="0.7"/>
<line x1="50.8" y1="743.9" x2="53.0" y2="743.9" stroke="#111" stroke-width="0.7"/>
<line x1="50.8" y1="747.3" x2="53.0" y2="747.3" stroke="#111" stroke-width="0.7"/>
<line x1="50.8" y1="750.8" x2="53.0" y2="750.8" stroke="#111" stroke-width="0.7"/>
<line x1="50.8" y1="754.3" x2="53.0" y2="754.3" stroke="#111" stroke-width="0.7"/>
<line x1="50.8" y1="757.7" x2="53.0" y2="757.7" stroke="#111" stroke-width="0.7"/>
<line x1="50.8" y1="761.2" x2="53.0" y2="761.2" stroke="#111" stroke-width="0.7"/>
<line x1="50.8" y1="764.7" x2="53.0" y2="764.7" stroke="#111" stroke-width="0.7"/>
<line x1="50.8" y1="768.2" x2="53.0" y2="768.2" stroke="#111" stroke-width="0.7"/>
<line x1="50.8" y1="771.6" x2="53.0" y2="771.6" stroke="#111" stroke-width="0.7"/>
<line x1="50.8" y1="775.1" x2="53.0" y2="775.1" stroke="#111" stroke-width="0.7"/>
<line x1="50.8" y1="778.6" x2="53.0" y2="778.6" stroke="#111" stroke-width="0.7"/>
<line x1="50.8" y1="782" x2="53.0" y2="782" stroke="#111" stroke-width="0.7"/>
<line x1="50.8" y1="785.5" x2="53.0" y2="785.5" stroke="#111" stroke-width="0.7"/>
<line x1="50.8" y1="789" x2="53.0" y2="789" stroke="#111" stroke-width="0.7"/>
<line x1="53" y1="790.3" x2="53" y2="793.5" stroke="#111" stroke-width="0.9"/>
<text x="53" y="803.8" font-size="8.6" text-anchor="middle" fill="#222">18</text>
<line x1="68.5" y1="790.3" x2="68.5" y2="793.5" stroke="#111" stroke-width="0.9"/>
<text x="68.5" y="803.8" font-size="8.6" text-anchor="middle" fill="#222">19</text>
<line x1="84.1" y1="790.3" x2="84.1" y2="793.5" stroke="#111" stroke-width="0.9"/>
<text x="84.1" y="803.8" font-size="8.6" text-anchor="middle" fill="#222">20</text>
<line x1="99.6" y1="790.3" x2="99.6" y2="793.5" stroke="#111" stroke-width="0.9"/>
<text x="99.6" y="803.8" font-size="8.6" text-anchor="middle" fill="#222">21</text>
<line x1="115.1" y1="790.3" x2="115.1" y2="793.5" stroke="#111" stroke-width="0.9"/>
<text x="115.1" y="803.8" font-size="8.6" text-anchor="middle" fill="#222">22</text>
<line x1="130.7" y1="790.3" x2="130.7" y2="793.5" stroke="#111" stroke-width="0.9"/>
<text x="130.7" y="803.8" font-size="8.6" text-anchor="middle" fill="#222">23</text>
<line x1="146.2" y1="790.3" x2="146.2" y2="793.5" stroke="#111" stroke-width="0.9"/>
<text x="146.2" y="803.8" font-size="8.6" text-anchor="middle" fill="#222">24</text>
<line x1="161.7" y1="790.3" x2="161.7" y2="793.5" stroke="#111" stroke-width="0.9"/>
<text x="161.7" y="803.8" font-size="8.6" text-anchor="middle" fill="#222">25</text>
<line x1="177.3" y1="790.3" x2="177.3" y2="793.5" stroke="#111" stroke-width="0.9"/>
<text x="177.3" y="803.8" font-size="8.6" text-anchor="middle" fill="#222">26</text>
<line x1="192.8" y1="790.3" x2="192.8" y2="793.5" stroke="#111" stroke-width="0.9"/>
<text x="192.8" y="803.8" font-size="8.6" text-anchor="middle" fill="#222">27</text>
<line x1="208.3" y1="790.3" x2="208.3" y2="793.5" stroke="#111" stroke-width="0.9"/>
<text x="208.3" y="803.8" font-size="8.6" text-anchor="middle" fill="#222">28</text>
<line x1="223.9" y1="790.3" x2="223.9" y2="793.5" stroke="#111" stroke-width="0.9"/>
<text x="223.9" y="803.8" font-size="8.6" text-anchor="middle" fill="#222">29</text>
<line x1="239.4" y1="790.3" x2="239.4" y2="793.5" stroke="#111" stroke-width="0.9"/>
<text x="239.4" y="803.8" font-size="8.6" text-anchor="middle" fill="#222">30</text>
<line x1="255" y1="790.3" x2="255" y2="793.5" stroke="#111" stroke-width="0.9"/>
<text x="255" y="803.8" font-size="8.6" text-anchor="middle" fill="#222">31</text>
<line x1="270.5" y1="790.3" x2="270.5" y2="793.5" stroke="#111" stroke-width="0.9"/>
<text x="270.5" y="803.8" font-size="8.6" text-anchor="middle" fill="#222">32</text>
<line x1="286" y1="790.3" x2="286" y2="793.5" stroke="#111" stroke-width="0.9"/>
<text x="286" y="803.8" font-size="8.6" text-anchor="middle" fill="#222">33</text>
<line x1="301.6" y1="790.3" x2="301.6" y2="793.5" stroke="#111" stroke-width="0.9"/>
<text x="301.6" y="803.8" font-size="8.6" text-anchor="middle" fill="#222">34</text>
<line x1="317.1" y1="790.3" x2="317.1" y2="793.5" stroke="#111" stroke-width="0.9"/>
<text x="317.1" y="803.8" font-size="8.6" text-anchor="middle" fill="#222">35</text>
<line x1="332.6" y1="790.3" x2="332.6" y2="793.5" stroke="#111" stroke-width="0.9"/>
<text x="332.6" y="803.8" font-size="8.6" text-anchor="middle" fill="#222">36</text>
<line x1="348.2" y1="790.3" x2="348.2" y2="793.5" stroke="#111" stroke-width="0.9"/>
<text x="348.2" y="803.8" font-size="8.6" text-anchor="middle" fill="#222">37</text>
<line x1="363.7" y1="790.3" x2="363.7" y2="793.5" stroke="#111" stroke-width="0.9"/>
<text x="363.7" y="803.8" font-size="8.6" text-anchor="middle" fill="#222">38</text>
<line x1="379.2" y1="790.3" x2="379.2" y2="793.5" stroke="#111" stroke-width="0.9"/>
<text x="379.2" y="803.8" font-size="8.6" text-anchor="middle" fill="#222">39</text>
<line x1="394.8" y1="790.3" x2="394.8" y2="793.5" stroke="#111" stroke-width="0.9"/>
<text x="394.8" y="803.8" font-size="8.6" text-anchor="middle" fill="#222">40</text>
<line x1="410.3" y1="790.3" x2="410.3" y2="793.5" stroke="#111" stroke-width="0.9"/>
<text x="410.3" y="803.8" font-size="8.6" text-anchor="middle" fill="#222">41</text>
<line x1="425.8" y1="790.3" x2="425.8" y2="793.5" stroke="#111" stroke-width="0.9"/>
<text x="425.8" y="803.8" font-size="8.6" text-anchor="middle" fill="#222">42</text>
<line x1="441.4" y1="790.3" x2="441.4" y2="793.5" stroke="#111" stroke-width="0.9"/>
<text x="441.4" y="803.8" font-size="8.6" text-anchor="middle" fill="#222">43</text>
<line x1="456.9" y1="790.3" x2="456.9" y2="793.5" stroke="#111" stroke-width="0.9"/>
<text x="456.9" y="803.8" font-size="8.6" text-anchor="middle" fill="#222">44</text>
<line x1="472.4" y1="790.3" x2="472.4" y2="793.5" stroke="#111" stroke-width="0.9"/>
<text x="472.4" y="803.8" font-size="8.6" text-anchor="middle" fill="#222">45</text>
<line x1="488" y1="790.3" x2="488" y2="793.5" stroke="#111" stroke-width="0.9"/>
<text x="488" y="803.8" font-size="8.6" text-anchor="middle" fill="#222">46</text>
<line x1="503.5" y1="790.3" x2="503.5" y2="793.5" stroke="#111" stroke-width="0.9"/>
<text x="503.5" y="803.8" font-size="8.6" text-anchor="middle" fill="#222">47</text>
<line x1="519" y1="790.3" x2="519" y2="793.5" stroke="#111" stroke-width="0.9"/>
<text x="519" y="803.8" font-size="8.6" text-anchor="middle" fill="#222">48</text>
<line x1="534.6" y1="790.3" x2="534.6" y2="793.5" stroke="#111" stroke-width="0.9"/>
<text x="534.6" y="803.8" font-size="8.6" text-anchor="middle" fill="#222">49</text>
<line x1="550.1" y1="790.3" x2="550.1" y2="793.5" stroke="#111" stroke-width="0.9"/>
<text x="550.1" y="803.8" font-size="8.6" text-anchor="middle" fill="#222">50</text>
<line x1="565.7" y1="790.3" x2="565.7" y2="793.5" stroke="#111" stroke-width="0.9"/>
<text x="565.7" y="803.8" font-size="8.6" text-anchor="middle" fill="#222">51</text>
<line x1="581.2" y1="790.3" x2="581.2" y2="793.5" stroke="#111" stroke-width="0.9"/>
<text x="581.2" y="803.8" font-size="8.6" text-anchor="middle" fill="#222">52</text>
<line x1="596.7" y1="790.3" x2="596.7" y2="793.5" stroke="#111" stroke-width="0.9"/>
<text x="596.7" y="803.8" font-size="8.6" text-anchor="middle" fill="#222">53</text>
<line x1="612.3" y1="790.3" x2="612.3" y2="793.5" stroke="#111" stroke-width="0.9"/>
<text x="612.3" y="803.8" font-size="8.6" text-anchor="middle" fill="#222">54</text>
<line x1="627.8" y1="790.3" x2="627.8" y2="793.5" stroke="#111" stroke-width="0.9"/>
<text x="627.8" y="803.8" font-size="8.6" text-anchor="middle" fill="#222">55</text>
<line x1="643.3" y1="790.3" x2="643.3" y2="793.5" stroke="#111" stroke-width="0.9"/>
<text x="643.3" y="803.8" font-size="8.6" text-anchor="middle" fill="#222">56</text>
<line x1="658.9" y1="790.3" x2="658.9" y2="793.5" stroke="#111" stroke-width="0.9"/>
<text x="658.9" y="803.8" font-size="8.6" text-anchor="middle" fill="#222">57</text>
<line x1="674.4" y1="790.3" x2="674.4" y2="793.5" stroke="#111" stroke-width="0.9"/>
<text x="674.4" y="803.8" font-size="8.6" text-anchor="middle" fill="#222">58</text>
<text x="346.5" y="812.5" font-size="9.2">(gear tooth)</text>
<text x="31.7" y="433.6" font-size="9.1">(mm)</text>
<line x1="48.5" y1="440.1" x2="53.0" y2="440.1" stroke="#111" stroke-width="1"/>
<text x="45.8" y="442.4" font-size="6.3" text-anchor="end" fill="#3a3a3a">0.00</text>
<line x1="48.5" y1="457.5" x2="53.0" y2="457.5" stroke="#111" stroke-width="1"/>
<text x="45.8" y="459.8" font-size="6.3" text-anchor="end" fill="#3a3a3a">−0.01</text>
<line x1="48.5" y1="474.8" x2="53.0" y2="474.8" stroke="#111" stroke-width="1"/>
<text x="45.8" y="477.1" font-size="6.3" text-anchor="end" fill="#3a3a3a">−0.02</text>
<line x1="48.5" y1="492.1" x2="53.0" y2="492.1" stroke="#111" stroke-width="1"/>
<text x="45.8" y="494.4" font-size="6.3" text-anchor="end" fill="#3a3a3a">−0.03</text>
<line x1="48.5" y1="524.7" x2="53.0" y2="524.7" stroke="#111" stroke-width="1"/>
<text x="45.8" y="527" font-size="6.3" text-anchor="end" fill="#3a3a3a">0.013</text>
<line x1="48.5" y1="541.5" x2="53.0" y2="541.5" stroke="#111" stroke-width="1"/>
<text x="45.8" y="543.8" font-size="6.3" text-anchor="end" fill="#3a3a3a">−0.026</text>
<line x1="48.5" y1="558.7" x2="53.0" y2="558.7" stroke="#111" stroke-width="1"/>
<text x="45.8" y="561" font-size="6.3" text-anchor="end" fill="#3a3a3a">0.039</text>
<line x1="48.5" y1="575.3" x2="53.0" y2="575.3" stroke="#111" stroke-width="1"/>
<text x="45.8" y="577.6" font-size="6.3" text-anchor="end" fill="#3a3a3a">−0.052</text>
<line x1="48.5" y1="581.1" x2="53.0" y2="581.1" stroke="#111" stroke-width="1"/>
<text x="45.8" y="583.4" font-size="6.3" text-anchor="end" fill="#3a3a3a">0.000</text>
<line x1="48.5" y1="598.6" x2="53.0" y2="598.6" stroke="#111" stroke-width="1"/>
<text x="45.8" y="600.9" font-size="6.3" text-anchor="end" fill="#3a3a3a">0.009</text>
<line x1="48.5" y1="616.6" x2="53.0" y2="616.6" stroke="#111" stroke-width="1"/>
<text x="45.8" y="618.9" font-size="6.3" text-anchor="end" fill="#3a3a3a">−0.018</text>
<line x1="48.5" y1="633.5" x2="53.0" y2="633.5" stroke="#111" stroke-width="1"/>
<text x="45.8" y="635.8" font-size="6.3" text-anchor="end" fill="#3a3a3a">−0.027</text>
<line x1="48.5" y1="650.6" x2="53.0" y2="650.6" stroke="#111" stroke-width="1"/>
<text x="45.8" y="652.9" font-size="6.3" text-anchor="end" fill="#3a3a3a">0.0000</text>
<line x1="48.5" y1="667.8" x2="53.0" y2="667.8" stroke="#111" stroke-width="1"/>
<text x="45.8" y="670.1" font-size="6.3" text-anchor="end" fill="#3a3a3a">0.0092</text>
<line x1="48.5" y1="685.7" x2="53.0" y2="685.7" stroke="#111" stroke-width="1"/>
<text x="45.8" y="688" font-size="6.3" text-anchor="end" fill="#3a3a3a">−0.0184</text>
<line x1="48.5" y1="703.6" x2="53.0" y2="703.6" stroke="#111" stroke-width="1"/>
<text x="45.8" y="705.9" font-size="6.3" text-anchor="end" fill="#3a3a3a">0.0276</text>
<line x1="48.5" y1="719.6" x2="53.0" y2="719.6" stroke="#111" stroke-width="1"/>
<text x="45.8" y="721.9" font-size="6.3" text-anchor="end" fill="#3a3a3a">0.000</text>
<line x1="48.5" y1="737.9" x2="53.0" y2="737.9" stroke="#111" stroke-width="1"/>
<text x="45.8" y="740.2" font-size="6.3" text-anchor="end" fill="#3a3a3a">−0.009</text>
<line x1="48.5" y1="755" x2="53.0" y2="755" stroke="#111" stroke-width="1"/>
<text x="45.8" y="757.3" font-size="6.3" text-anchor="end" fill="#3a3a3a">0.018</text>
<line x1="48.5" y1="772.9" x2="53.0" y2="772.9" stroke="#111" stroke-width="1"/>
<text x="45.8" y="775.2" font-size="6.3" text-anchor="end" fill="#3a3a3a">0.021</text>
<text transform="translate(17.3,474.2) rotate(-90)" font-size="8.2" font-weight="bold" text-anchor="middle">Gear 1 radial</text>
<text transform="translate(27.3,474.2) rotate(-90)" font-size="8.2" font-weight="bold" text-anchor="middle">runout tolerance</text>
<text transform="translate(13.8,544.7) rotate(-90)" font-size="8.2" font-weight="bold" text-anchor="middle">Gear 2 radial</text>
<text transform="translate(24.8,544.7) rotate(-90)" font-size="8.2" font-weight="bold" text-anchor="middle">runout tolerance</text>
<text transform="translate(14,614.8) rotate(-90)" font-size="8.2" font-weight="bold" text-anchor="middle">Gear 3 radial</text>
<text transform="translate(25,614.8) rotate(-90)" font-size="8.2" font-weight="bold" text-anchor="middle">runout tolerance</text>
<text transform="translate(11.1,685.2) rotate(-90)" font-size="8.2" font-weight="bold" text-anchor="middle">Gear 4 radial</text>
<text transform="translate(21.3,685.2) rotate(-90)" font-size="8.2" font-weight="bold" text-anchor="middle">runout tolerance</text>
<text transform="translate(14.2,755.4) rotate(-90)" font-size="8.2" font-weight="bold" text-anchor="middle">DA-LSTM</text>
<text transform="translate(25.2,755.4) rotate(-90)" font-size="8.2" font-weight="bold" text-anchor="middle">prediction results</text>
<text x="136" y="839" font-size="15.4">(b) Histogram of prediction error distribution of DA-LSTM model</text>
</svg>
</body></html>
